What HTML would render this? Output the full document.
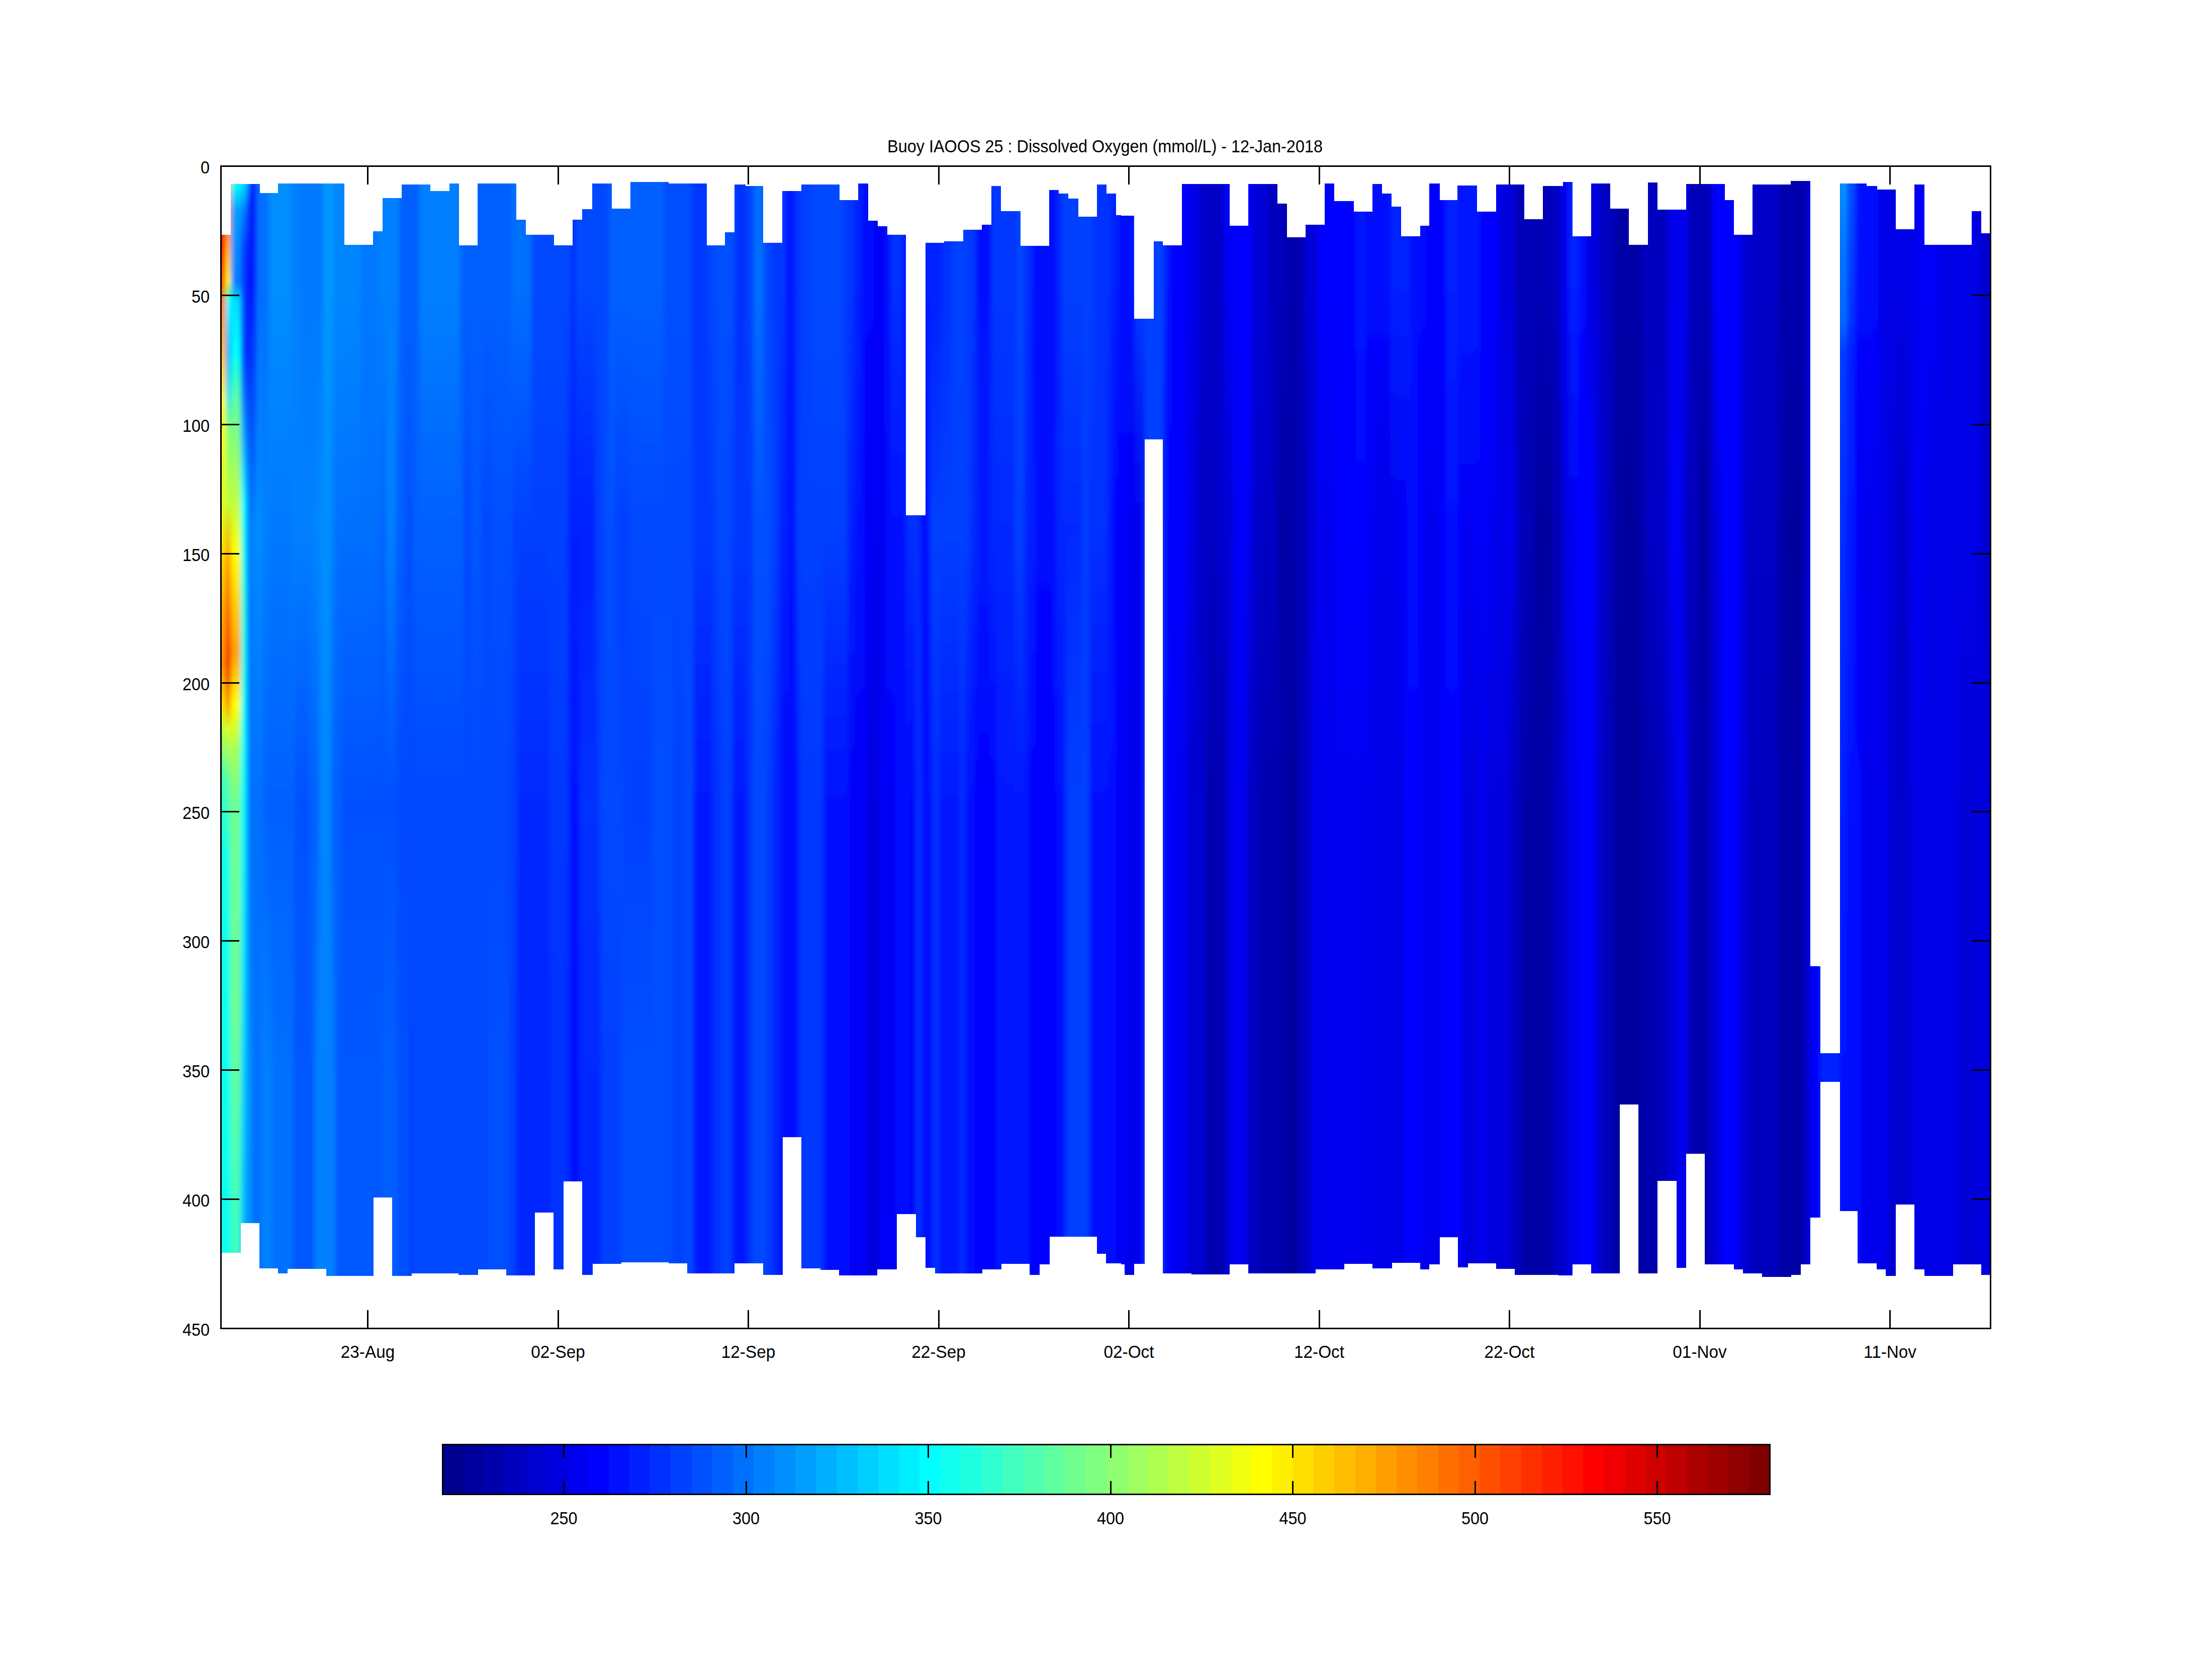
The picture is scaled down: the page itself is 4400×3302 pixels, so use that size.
<!DOCTYPE html><html><head><meta charset="utf-8"><style>
html,body{margin:0;padding:0;background:#fff;width:4400px;height:3302px;overflow:hidden}
svg{position:absolute;left:0;top:0}
text{font-family:"Liberation Sans",sans-serif;fill:#000}
</style></head><body>
<svg width="4400" height="3302" viewBox="0 0 4400 3302" shape-rendering="crispEdges">
<rect x="0" y="0" width="4400" height="3302" fill="#fff"/>
<defs>
<linearGradient id="g0" x1="0" y1="330" x2="0" y2="2642" gradientUnits="userSpaceOnUse">
<stop offset="0.0590" stop-color="#ff0000"/>
<stop offset="0.0993" stop-color="#ff6000"/>
<stop offset="0.1382" stop-color="#ff9f00"/>
<stop offset="0.2031" stop-color="#ffff00"/>
<stop offset="0.2896" stop-color="#dfff20"/>
<stop offset="0.3328" stop-color="#ffdf00"/>
<stop offset="0.3761" stop-color="#ffaf00"/>
<stop offset="0.4280" stop-color="#ff8f00"/>
<stop offset="0.4626" stop-color="#ffdf00"/>
<stop offset="0.4842" stop-color="#bfff40"/>
<stop offset="0.5275" stop-color="#40ffbf"/>
<stop offset="0.5923" stop-color="#10ffef"/>
<stop offset="0.7221" stop-color="#10ffef"/>
<stop offset="0.9336" stop-color="#10ffef"/>
</linearGradient>
<linearGradient id="g1" x1="0" y1="330" x2="0" y2="2642" gradientUnits="userSpaceOnUse">
<stop offset="0.0590" stop-color="#ff9f00"/>
<stop offset="0.0993" stop-color="#ffff00"/>
<stop offset="0.1166" stop-color="#00ffff"/>
<stop offset="0.1598" stop-color="#009fff"/>
<stop offset="0.1987" stop-color="#00dfff"/>
<stop offset="0.2247" stop-color="#80ff80"/>
<stop offset="0.2896" stop-color="#bfff40"/>
<stop offset="0.3328" stop-color="#ff9f00"/>
<stop offset="0.3977" stop-color="#ff4000"/>
<stop offset="0.4293" stop-color="#ef0000"/>
<stop offset="0.4626" stop-color="#ff8f00"/>
<stop offset="0.4842" stop-color="#dfff20"/>
<stop offset="0.5275" stop-color="#60ff9f"/>
<stop offset="0.5923" stop-color="#20ffdf"/>
<stop offset="0.7221" stop-color="#10ffef"/>
<stop offset="0.9336" stop-color="#10ffef"/>
</linearGradient>
<linearGradient id="g2" x1="0" y1="330" x2="0" y2="2642" gradientUnits="userSpaceOnUse">
<stop offset="0.0154" stop-color="#00ffff"/>
<stop offset="0.0387" stop-color="#009fff"/>
<stop offset="0.0993" stop-color="#0080ff"/>
<stop offset="0.1166" stop-color="#00dfff"/>
<stop offset="0.1598" stop-color="#00ffff"/>
<stop offset="0.2031" stop-color="#60ff9f"/>
<stop offset="0.2896" stop-color="#bfff40"/>
<stop offset="0.3328" stop-color="#ffff00"/>
<stop offset="0.4193" stop-color="#ff9f00"/>
<stop offset="0.4626" stop-color="#ffff00"/>
<stop offset="0.5058" stop-color="#9fff60"/>
<stop offset="0.5491" stop-color="#70ff8f"/>
<stop offset="0.7221" stop-color="#70ff8f"/>
<stop offset="0.9085" stop-color="#40ffbf"/>
</linearGradient>
<linearGradient id="g3" x1="0" y1="330" x2="0" y2="2642" gradientUnits="userSpaceOnUse">
<stop offset="0.0154" stop-color="#00dfff"/>
<stop offset="0.0387" stop-color="#0080ff"/>
<stop offset="0.0733" stop-color="#0040ff"/>
<stop offset="0.1598" stop-color="#0040ff"/>
<stop offset="0.2031" stop-color="#0080ff"/>
<stop offset="0.2896" stop-color="#00ffff"/>
<stop offset="0.3761" stop-color="#20ffdf"/>
<stop offset="0.5058" stop-color="#00ffff"/>
<stop offset="0.7221" stop-color="#00dfff"/>
<stop offset="0.9085" stop-color="#00bfff"/>
</linearGradient>
<linearGradient id="g4" x1="0" y1="330" x2="0" y2="2642" gradientUnits="userSpaceOnUse">
<stop offset="0.0154" stop-color="#009fff"/>
<stop offset="0.0387" stop-color="#0040ff"/>
<stop offset="0.0949" stop-color="#0010ff"/>
<stop offset="0.1598" stop-color="#0018ff"/>
<stop offset="0.2031" stop-color="#0040ff"/>
<stop offset="0.2896" stop-color="#0080ff"/>
<stop offset="0.5058" stop-color="#009fff"/>
<stop offset="0.7221" stop-color="#008fff"/>
<stop offset="0.9384" stop-color="#0080ff"/>
</linearGradient>
<linearGradient id="g5" x1="0" y1="330" x2="0" y2="2642" gradientUnits="userSpaceOnUse">
<stop offset="0.1036" stop-color="#0018ff"/>
<stop offset="0.3112" stop-color="#0080ff"/>
<stop offset="0.5491" stop-color="#0060ff"/>
<stop offset="0.7870" stop-color="#009fff"/>
</linearGradient>
<linearGradient id="g6" x1="0" y1="330" x2="0" y2="2642" gradientUnits="userSpaceOnUse">
<stop offset="0.1036" stop-color="#0018ff"/>
<stop offset="0.3112" stop-color="#0080ff"/>
<stop offset="0.5491" stop-color="#0070ff"/>
<stop offset="0.7870" stop-color="#009fff"/>
</linearGradient>
<linearGradient id="g7" x1="0" y1="330" x2="0" y2="2642" gradientUnits="userSpaceOnUse">
<stop offset="0.1036" stop-color="#0018ff"/>
<stop offset="0.3112" stop-color="#0080ff"/>
<stop offset="0.5491" stop-color="#0070ff"/>
<stop offset="0.7870" stop-color="#0070ff"/>
</linearGradient>
<linearGradient id="g8" x1="0" y1="330" x2="0" y2="2642" gradientUnits="userSpaceOnUse">
<stop offset="0.1036" stop-color="#0018ff"/>
<stop offset="0.3112" stop-color="#008fff"/>
<stop offset="0.5491" stop-color="#0070ff"/>
<stop offset="0.7870" stop-color="#0070ff"/>
</linearGradient>
<linearGradient id="g9" x1="0" y1="330" x2="0" y2="2642" gradientUnits="userSpaceOnUse">
<stop offset="0.1036" stop-color="#0070ff"/>
<stop offset="0.3112" stop-color="#008fff"/>
<stop offset="0.5491" stop-color="#0070ff"/>
<stop offset="0.7870" stop-color="#0070ff"/>
</linearGradient>
<linearGradient id="g10" x1="0" y1="330" x2="0" y2="2642" gradientUnits="userSpaceOnUse">
<stop offset="0.1036" stop-color="#0070ff"/>
<stop offset="0.3112" stop-color="#008fff"/>
<stop offset="0.5491" stop-color="#0070ff"/>
<stop offset="0.7870" stop-color="#0080ff"/>
</linearGradient>
<linearGradient id="g11" x1="0" y1="330" x2="0" y2="2642" gradientUnits="userSpaceOnUse">
<stop offset="0.1036" stop-color="#0070ff"/>
<stop offset="0.3112" stop-color="#0080ff"/>
<stop offset="0.5491" stop-color="#0070ff"/>
<stop offset="0.7870" stop-color="#0080ff"/>
</linearGradient>
<linearGradient id="g12" x1="0" y1="330" x2="0" y2="2642" gradientUnits="userSpaceOnUse">
<stop offset="0.1036" stop-color="#0070ff"/>
<stop offset="0.3112" stop-color="#0080ff"/>
<stop offset="0.5491" stop-color="#0060ff"/>
<stop offset="0.7870" stop-color="#0080ff"/>
</linearGradient>
<linearGradient id="g13" x1="0" y1="330" x2="0" y2="2642" gradientUnits="userSpaceOnUse">
<stop offset="0.1036" stop-color="#008fff"/>
<stop offset="0.3112" stop-color="#0080ff"/>
<stop offset="0.5491" stop-color="#0060ff"/>
<stop offset="0.7870" stop-color="#0080ff"/>
</linearGradient>
<linearGradient id="g14" x1="0" y1="330" x2="0" y2="2642" gradientUnits="userSpaceOnUse">
<stop offset="0.1036" stop-color="#008fff"/>
<stop offset="0.3112" stop-color="#0078ff"/>
<stop offset="0.5491" stop-color="#0060ff"/>
<stop offset="0.7870" stop-color="#0080ff"/>
</linearGradient>
<linearGradient id="g15" x1="0" y1="330" x2="0" y2="2642" gradientUnits="userSpaceOnUse">
<stop offset="0.1036" stop-color="#008fff"/>
<stop offset="0.3112" stop-color="#0078ff"/>
<stop offset="0.5491" stop-color="#0060ff"/>
<stop offset="0.7870" stop-color="#0070ff"/>
</linearGradient>
<linearGradient id="g16" x1="0" y1="330" x2="0" y2="2642" gradientUnits="userSpaceOnUse">
<stop offset="0.1036" stop-color="#0080ff"/>
<stop offset="0.3112" stop-color="#0080ff"/>
<stop offset="0.5491" stop-color="#0060ff"/>
<stop offset="0.7870" stop-color="#0070ff"/>
</linearGradient>
<linearGradient id="g17" x1="0" y1="330" x2="0" y2="2642" gradientUnits="userSpaceOnUse">
<stop offset="0.1036" stop-color="#0080ff"/>
<stop offset="0.3112" stop-color="#0080ff"/>
<stop offset="0.5491" stop-color="#0060ff"/>
<stop offset="0.7870" stop-color="#0058ff"/>
</linearGradient>
<linearGradient id="g18" x1="0" y1="330" x2="0" y2="2642" gradientUnits="userSpaceOnUse">
<stop offset="0.1036" stop-color="#0080ff"/>
<stop offset="0.3112" stop-color="#0080ff"/>
<stop offset="0.5491" stop-color="#0050ff"/>
<stop offset="0.7870" stop-color="#0058ff"/>
</linearGradient>
<linearGradient id="g19" x1="0" y1="330" x2="0" y2="2642" gradientUnits="userSpaceOnUse">
<stop offset="0.1036" stop-color="#0078ff"/>
<stop offset="0.3112" stop-color="#0080ff"/>
<stop offset="0.5491" stop-color="#0050ff"/>
<stop offset="0.7870" stop-color="#0058ff"/>
</linearGradient>
<linearGradient id="g20" x1="0" y1="330" x2="0" y2="2642" gradientUnits="userSpaceOnUse">
<stop offset="0.1036" stop-color="#0078ff"/>
<stop offset="0.3112" stop-color="#0080ff"/>
<stop offset="0.5491" stop-color="#0060ff"/>
<stop offset="0.7870" stop-color="#0058ff"/>
</linearGradient>
<linearGradient id="g21" x1="0" y1="330" x2="0" y2="2642" gradientUnits="userSpaceOnUse">
<stop offset="0.1036" stop-color="#0078ff"/>
<stop offset="0.3112" stop-color="#0080ff"/>
<stop offset="0.5491" stop-color="#0060ff"/>
<stop offset="0.7870" stop-color="#0080ff"/>
</linearGradient>
<linearGradient id="g22" x1="0" y1="330" x2="0" y2="2642" gradientUnits="userSpaceOnUse">
<stop offset="0.1036" stop-color="#0078ff"/>
<stop offset="0.3112" stop-color="#0087ff"/>
<stop offset="0.5491" stop-color="#0060ff"/>
<stop offset="0.7870" stop-color="#0080ff"/>
</linearGradient>
<linearGradient id="g23" x1="0" y1="330" x2="0" y2="2642" gradientUnits="userSpaceOnUse">
<stop offset="0.1036" stop-color="#0078ff"/>
<stop offset="0.3112" stop-color="#0087ff"/>
<stop offset="0.5491" stop-color="#0087ff"/>
<stop offset="0.7870" stop-color="#0080ff"/>
</linearGradient>
<linearGradient id="g24" x1="0" y1="330" x2="0" y2="2642" gradientUnits="userSpaceOnUse">
<stop offset="0.1036" stop-color="#0078ff"/>
<stop offset="0.3112" stop-color="#008fff"/>
<stop offset="0.5491" stop-color="#0087ff"/>
<stop offset="0.7870" stop-color="#0080ff"/>
</linearGradient>
<linearGradient id="g25" x1="0" y1="330" x2="0" y2="2642" gradientUnits="userSpaceOnUse">
<stop offset="0.1036" stop-color="#0097ff"/>
<stop offset="0.3112" stop-color="#008fff"/>
<stop offset="0.5491" stop-color="#0087ff"/>
<stop offset="0.7870" stop-color="#0080ff"/>
</linearGradient>
<linearGradient id="g26" x1="0" y1="330" x2="0" y2="2642" gradientUnits="userSpaceOnUse">
<stop offset="0.1036" stop-color="#0097ff"/>
<stop offset="0.3112" stop-color="#0087ff"/>
<stop offset="0.5491" stop-color="#0087ff"/>
<stop offset="0.7870" stop-color="#0080ff"/>
</linearGradient>
<linearGradient id="g27" x1="0" y1="330" x2="0" y2="2642" gradientUnits="userSpaceOnUse">
<stop offset="0.1036" stop-color="#0097ff"/>
<stop offset="0.3112" stop-color="#0087ff"/>
<stop offset="0.5491" stop-color="#0060ff"/>
<stop offset="0.7870" stop-color="#0080ff"/>
</linearGradient>
<linearGradient id="g28" x1="0" y1="330" x2="0" y2="2642" gradientUnits="userSpaceOnUse">
<stop offset="0.1036" stop-color="#0087ff"/>
<stop offset="0.3112" stop-color="#0087ff"/>
<stop offset="0.5491" stop-color="#0060ff"/>
<stop offset="0.7870" stop-color="#0080ff"/>
</linearGradient>
<linearGradient id="g29" x1="0" y1="330" x2="0" y2="2642" gradientUnits="userSpaceOnUse">
<stop offset="0.1036" stop-color="#0087ff"/>
<stop offset="0.3112" stop-color="#0070ff"/>
<stop offset="0.5491" stop-color="#0060ff"/>
<stop offset="0.7870" stop-color="#0080ff"/>
</linearGradient>
<linearGradient id="g30" x1="0" y1="330" x2="0" y2="2642" gradientUnits="userSpaceOnUse">
<stop offset="0.1036" stop-color="#0087ff"/>
<stop offset="0.3112" stop-color="#0070ff"/>
<stop offset="0.5491" stop-color="#0060ff"/>
<stop offset="0.7870" stop-color="#0058ff"/>
</linearGradient>
<linearGradient id="g31" x1="0" y1="330" x2="0" y2="2642" gradientUnits="userSpaceOnUse">
<stop offset="0.1036" stop-color="#0087ff"/>
<stop offset="0.3112" stop-color="#0070ff"/>
<stop offset="0.5491" stop-color="#0050ff"/>
<stop offset="0.7870" stop-color="#0058ff"/>
</linearGradient>
<linearGradient id="g32" x1="0" y1="330" x2="0" y2="2642" gradientUnits="userSpaceOnUse">
<stop offset="0.1036" stop-color="#0078ff"/>
<stop offset="0.3112" stop-color="#0070ff"/>
<stop offset="0.5491" stop-color="#0050ff"/>
<stop offset="0.7870" stop-color="#0058ff"/>
</linearGradient>
<linearGradient id="g33" x1="0" y1="330" x2="0" y2="2642" gradientUnits="userSpaceOnUse">
<stop offset="0.1036" stop-color="#0080ff"/>
<stop offset="0.3112" stop-color="#0070ff"/>
<stop offset="0.5491" stop-color="#0050ff"/>
<stop offset="0.7870" stop-color="#0058ff"/>
</linearGradient>
<linearGradient id="g34" x1="0" y1="330" x2="0" y2="2642" gradientUnits="userSpaceOnUse">
<stop offset="0.1036" stop-color="#0080ff"/>
<stop offset="0.3112" stop-color="#0060ff"/>
<stop offset="0.5491" stop-color="#0050ff"/>
<stop offset="0.7870" stop-color="#0058ff"/>
</linearGradient>
<linearGradient id="g35" x1="0" y1="330" x2="0" y2="2642" gradientUnits="userSpaceOnUse">
<stop offset="0.1036" stop-color="#0080ff"/>
<stop offset="0.3112" stop-color="#0060ff"/>
<stop offset="0.5491" stop-color="#0050ff"/>
<stop offset="0.7870" stop-color="#0060ff"/>
</linearGradient>
<linearGradient id="g36" x1="0" y1="330" x2="0" y2="2642" gradientUnits="userSpaceOnUse">
<stop offset="0.1036" stop-color="#0080ff"/>
<stop offset="0.3112" stop-color="#0080ff"/>
<stop offset="0.5491" stop-color="#0050ff"/>
<stop offset="0.7870" stop-color="#0060ff"/>
</linearGradient>
<linearGradient id="g37" x1="0" y1="330" x2="0" y2="2642" gradientUnits="userSpaceOnUse">
<stop offset="0.1036" stop-color="#0080ff"/>
<stop offset="0.3112" stop-color="#0060ff"/>
<stop offset="0.5491" stop-color="#0050ff"/>
<stop offset="0.7870" stop-color="#0060ff"/>
</linearGradient>
<linearGradient id="g38" x1="0" y1="330" x2="0" y2="2642" gradientUnits="userSpaceOnUse">
<stop offset="0.1036" stop-color="#0080ff"/>
<stop offset="0.3112" stop-color="#0060ff"/>
<stop offset="0.5491" stop-color="#0048ff"/>
<stop offset="0.7870" stop-color="#0050ff"/>
</linearGradient>
<linearGradient id="g39" x1="0" y1="330" x2="0" y2="2642" gradientUnits="userSpaceOnUse">
<stop offset="0.1036" stop-color="#0060ff"/>
<stop offset="0.3112" stop-color="#0060ff"/>
<stop offset="0.5491" stop-color="#0048ff"/>
<stop offset="0.7870" stop-color="#0050ff"/>
</linearGradient>
<linearGradient id="g40" x1="0" y1="330" x2="0" y2="2642" gradientUnits="userSpaceOnUse">
<stop offset="0.1036" stop-color="#0060ff"/>
<stop offset="0.3112" stop-color="#0050ff"/>
<stop offset="0.5491" stop-color="#0048ff"/>
<stop offset="0.7870" stop-color="#0050ff"/>
</linearGradient>
<linearGradient id="g41" x1="0" y1="330" x2="0" y2="2642" gradientUnits="userSpaceOnUse">
<stop offset="0.1036" stop-color="#0060ff"/>
<stop offset="0.3112" stop-color="#0050ff"/>
<stop offset="0.5491" stop-color="#0048ff"/>
<stop offset="0.7870" stop-color="#0040ff"/>
</linearGradient>
<linearGradient id="g42" x1="0" y1="330" x2="0" y2="2642" gradientUnits="userSpaceOnUse">
<stop offset="0.1036" stop-color="#0060ff"/>
<stop offset="0.3112" stop-color="#0050ff"/>
<stop offset="0.5491" stop-color="#0048ff"/>
<stop offset="0.7870" stop-color="#0048ff"/>
</linearGradient>
<linearGradient id="g43" x1="0" y1="330" x2="0" y2="2642" gradientUnits="userSpaceOnUse">
<stop offset="0.1036" stop-color="#0060ff"/>
<stop offset="0.3112" stop-color="#0060ff"/>
<stop offset="0.5491" stop-color="#0048ff"/>
<stop offset="0.7870" stop-color="#0048ff"/>
</linearGradient>
<linearGradient id="g44" x1="0" y1="330" x2="0" y2="2642" gradientUnits="userSpaceOnUse">
<stop offset="0.1036" stop-color="#0080ff"/>
<stop offset="0.3112" stop-color="#0060ff"/>
<stop offset="0.5491" stop-color="#0048ff"/>
<stop offset="0.7870" stop-color="#0048ff"/>
</linearGradient>
<linearGradient id="g45" x1="0" y1="330" x2="0" y2="2642" gradientUnits="userSpaceOnUse">
<stop offset="0.1036" stop-color="#0060ff"/>
<stop offset="0.3112" stop-color="#0060ff"/>
<stop offset="0.5491" stop-color="#0048ff"/>
<stop offset="0.7870" stop-color="#0048ff"/>
</linearGradient>
<linearGradient id="g46" x1="0" y1="330" x2="0" y2="2642" gradientUnits="userSpaceOnUse">
<stop offset="0.1036" stop-color="#0060ff"/>
<stop offset="0.3112" stop-color="#0048ff"/>
<stop offset="0.5491" stop-color="#0048ff"/>
<stop offset="0.7870" stop-color="#0048ff"/>
</linearGradient>
<linearGradient id="g47" x1="0" y1="330" x2="0" y2="2642" gradientUnits="userSpaceOnUse">
<stop offset="0.1036" stop-color="#0060ff"/>
<stop offset="0.3112" stop-color="#0058ff"/>
<stop offset="0.5491" stop-color="#0048ff"/>
<stop offset="0.7870" stop-color="#0048ff"/>
</linearGradient>
<linearGradient id="g48" x1="0" y1="330" x2="0" y2="2642" gradientUnits="userSpaceOnUse">
<stop offset="0.1036" stop-color="#0060ff"/>
<stop offset="0.3112" stop-color="#0048ff"/>
<stop offset="0.5491" stop-color="#0048ff"/>
<stop offset="0.7870" stop-color="#0048ff"/>
</linearGradient>
<linearGradient id="g49" x1="0" y1="330" x2="0" y2="2642" gradientUnits="userSpaceOnUse">
<stop offset="0.1036" stop-color="#0060ff"/>
<stop offset="0.3112" stop-color="#0048ff"/>
<stop offset="0.5491" stop-color="#0048ff"/>
<stop offset="0.7870" stop-color="#0050ff"/>
</linearGradient>
<linearGradient id="g50" x1="0" y1="330" x2="0" y2="2642" gradientUnits="userSpaceOnUse">
<stop offset="0.1036" stop-color="#0060ff"/>
<stop offset="0.3112" stop-color="#0050ff"/>
<stop offset="0.5491" stop-color="#0048ff"/>
<stop offset="0.7870" stop-color="#0050ff"/>
</linearGradient>
<linearGradient id="g51" x1="0" y1="330" x2="0" y2="2642" gradientUnits="userSpaceOnUse">
<stop offset="0.1036" stop-color="#0060ff"/>
<stop offset="0.3112" stop-color="#0050ff"/>
<stop offset="0.5491" stop-color="#0040ff"/>
<stop offset="0.7870" stop-color="#0040ff"/>
</linearGradient>
<linearGradient id="g52" x1="0" y1="330" x2="0" y2="2642" gradientUnits="userSpaceOnUse">
<stop offset="0.1036" stop-color="#0070ff"/>
<stop offset="0.3112" stop-color="#0050ff"/>
<stop offset="0.5491" stop-color="#0040ff"/>
<stop offset="0.7870" stop-color="#0040ff"/>
</linearGradient>
<linearGradient id="g53" x1="0" y1="330" x2="0" y2="2642" gradientUnits="userSpaceOnUse">
<stop offset="0.1036" stop-color="#0070ff"/>
<stop offset="0.3112" stop-color="#0040ff"/>
<stop offset="0.5491" stop-color="#0040ff"/>
<stop offset="0.7870" stop-color="#0040ff"/>
</linearGradient>
<linearGradient id="g54" x1="0" y1="330" x2="0" y2="2642" gradientUnits="userSpaceOnUse">
<stop offset="0.1036" stop-color="#0070ff"/>
<stop offset="0.3112" stop-color="#0040ff"/>
<stop offset="0.5491" stop-color="#0040ff"/>
<stop offset="0.7870" stop-color="#0028ff"/>
</linearGradient>
<linearGradient id="g55" x1="0" y1="330" x2="0" y2="2642" gradientUnits="userSpaceOnUse">
<stop offset="0.1036" stop-color="#0070ff"/>
<stop offset="0.3112" stop-color="#0040ff"/>
<stop offset="0.5491" stop-color="#0028ff"/>
<stop offset="0.7870" stop-color="#0028ff"/>
</linearGradient>
<linearGradient id="g56" x1="0" y1="330" x2="0" y2="2642" gradientUnits="userSpaceOnUse">
<stop offset="0.1036" stop-color="#0048ff"/>
<stop offset="0.3112" stop-color="#0040ff"/>
<stop offset="0.5491" stop-color="#0028ff"/>
<stop offset="0.7870" stop-color="#0028ff"/>
</linearGradient>
<linearGradient id="g57" x1="0" y1="330" x2="0" y2="2642" gradientUnits="userSpaceOnUse">
<stop offset="0.1036" stop-color="#0048ff"/>
<stop offset="0.3112" stop-color="#0040ff"/>
<stop offset="0.5491" stop-color="#0038ff"/>
<stop offset="0.7870" stop-color="#0028ff"/>
</linearGradient>
<linearGradient id="g58" x1="0" y1="330" x2="0" y2="2642" gradientUnits="userSpaceOnUse">
<stop offset="0.1036" stop-color="#0048ff"/>
<stop offset="0.3112" stop-color="#0040ff"/>
<stop offset="0.5491" stop-color="#0038ff"/>
<stop offset="0.7870" stop-color="#0030ff"/>
</linearGradient>
<linearGradient id="g59" x1="0" y1="330" x2="0" y2="2642" gradientUnits="userSpaceOnUse">
<stop offset="0.1036" stop-color="#0048ff"/>
<stop offset="0.3112" stop-color="#0020ff"/>
<stop offset="0.5491" stop-color="#0038ff"/>
<stop offset="0.7870" stop-color="#0030ff"/>
</linearGradient>
<linearGradient id="g60" x1="0" y1="330" x2="0" y2="2642" gradientUnits="userSpaceOnUse">
<stop offset="0.1036" stop-color="#0048ff"/>
<stop offset="0.3112" stop-color="#0020ff"/>
<stop offset="0.5491" stop-color="#0010ff"/>
<stop offset="0.7870" stop-color="#0010ff"/>
</linearGradient>
<linearGradient id="g61" x1="0" y1="330" x2="0" y2="2642" gradientUnits="userSpaceOnUse">
<stop offset="0.1036" stop-color="#0020ff"/>
<stop offset="0.3112" stop-color="#0020ff"/>
<stop offset="0.5491" stop-color="#0010ff"/>
<stop offset="0.7870" stop-color="#0010ff"/>
</linearGradient>
<linearGradient id="g62" x1="0" y1="330" x2="0" y2="2642" gradientUnits="userSpaceOnUse">
<stop offset="0.1036" stop-color="#0048ff"/>
<stop offset="0.3112" stop-color="#0020ff"/>
<stop offset="0.5491" stop-color="#0010ff"/>
<stop offset="0.7870" stop-color="#0010ff"/>
</linearGradient>
<linearGradient id="g63" x1="0" y1="330" x2="0" y2="2642" gradientUnits="userSpaceOnUse">
<stop offset="0.1036" stop-color="#0048ff"/>
<stop offset="0.3112" stop-color="#0020ff"/>
<stop offset="0.5491" stop-color="#0030ff"/>
<stop offset="0.7870" stop-color="#0028ff"/>
</linearGradient>
<linearGradient id="g64" x1="0" y1="330" x2="0" y2="2642" gradientUnits="userSpaceOnUse">
<stop offset="0.1036" stop-color="#0048ff"/>
<stop offset="0.3112" stop-color="#0040ff"/>
<stop offset="0.5491" stop-color="#0030ff"/>
<stop offset="0.7870" stop-color="#0028ff"/>
</linearGradient>
<linearGradient id="g65" x1="0" y1="330" x2="0" y2="2642" gradientUnits="userSpaceOnUse">
<stop offset="0.1036" stop-color="#0048ff"/>
<stop offset="0.3112" stop-color="#0040ff"/>
<stop offset="0.5491" stop-color="#0048ff"/>
<stop offset="0.7870" stop-color="#0028ff"/>
</linearGradient>
<linearGradient id="g66" x1="0" y1="330" x2="0" y2="2642" gradientUnits="userSpaceOnUse">
<stop offset="0.1036" stop-color="#0048ff"/>
<stop offset="0.3112" stop-color="#0040ff"/>
<stop offset="0.5491" stop-color="#0048ff"/>
<stop offset="0.7870" stop-color="#0040ff"/>
</linearGradient>
<linearGradient id="g67" x1="0" y1="330" x2="0" y2="2642" gradientUnits="userSpaceOnUse">
<stop offset="0.1036" stop-color="#0048ff"/>
<stop offset="0.3112" stop-color="#0050ff"/>
<stop offset="0.5491" stop-color="#0048ff"/>
<stop offset="0.7870" stop-color="#0040ff"/>
</linearGradient>
<linearGradient id="g68" x1="0" y1="330" x2="0" y2="2642" gradientUnits="userSpaceOnUse">
<stop offset="0.1036" stop-color="#0060ff"/>
<stop offset="0.3112" stop-color="#0050ff"/>
<stop offset="0.5491" stop-color="#0048ff"/>
<stop offset="0.7870" stop-color="#0040ff"/>
</linearGradient>
<linearGradient id="g69" x1="0" y1="330" x2="0" y2="2642" gradientUnits="userSpaceOnUse">
<stop offset="0.1036" stop-color="#0060ff"/>
<stop offset="0.3112" stop-color="#0040ff"/>
<stop offset="0.5491" stop-color="#0048ff"/>
<stop offset="0.7870" stop-color="#0040ff"/>
</linearGradient>
<linearGradient id="g70" x1="0" y1="330" x2="0" y2="2642" gradientUnits="userSpaceOnUse">
<stop offset="0.1036" stop-color="#0060ff"/>
<stop offset="0.3112" stop-color="#0040ff"/>
<stop offset="0.5491" stop-color="#0048ff"/>
<stop offset="0.7870" stop-color="#0050ff"/>
</linearGradient>
<linearGradient id="g71" x1="0" y1="330" x2="0" y2="2642" gradientUnits="userSpaceOnUse">
<stop offset="0.1036" stop-color="#0060ff"/>
<stop offset="0.3112" stop-color="#0040ff"/>
<stop offset="0.5491" stop-color="#0040ff"/>
<stop offset="0.7870" stop-color="#0050ff"/>
</linearGradient>
<linearGradient id="g72" x1="0" y1="330" x2="0" y2="2642" gradientUnits="userSpaceOnUse">
<stop offset="0.1036" stop-color="#0060ff"/>
<stop offset="0.3112" stop-color="#0048ff"/>
<stop offset="0.5491" stop-color="#0040ff"/>
<stop offset="0.7870" stop-color="#0050ff"/>
</linearGradient>
<linearGradient id="g73" x1="0" y1="330" x2="0" y2="2642" gradientUnits="userSpaceOnUse">
<stop offset="0.1036" stop-color="#0060ff"/>
<stop offset="0.3112" stop-color="#0048ff"/>
<stop offset="0.5491" stop-color="#0050ff"/>
<stop offset="0.7870" stop-color="#0050ff"/>
</linearGradient>
<linearGradient id="g74" x1="0" y1="330" x2="0" y2="2642" gradientUnits="userSpaceOnUse">
<stop offset="0.1036" stop-color="#0050ff"/>
<stop offset="0.3112" stop-color="#0048ff"/>
<stop offset="0.5491" stop-color="#0050ff"/>
<stop offset="0.7870" stop-color="#0050ff"/>
</linearGradient>
<linearGradient id="g75" x1="0" y1="330" x2="0" y2="2642" gradientUnits="userSpaceOnUse">
<stop offset="0.1036" stop-color="#0050ff"/>
<stop offset="0.3112" stop-color="#0048ff"/>
<stop offset="0.5491" stop-color="#0040ff"/>
<stop offset="0.7870" stop-color="#0040ff"/>
</linearGradient>
<linearGradient id="g76" x1="0" y1="330" x2="0" y2="2642" gradientUnits="userSpaceOnUse">
<stop offset="0.1036" stop-color="#0050ff"/>
<stop offset="0.3112" stop-color="#0048ff"/>
<stop offset="0.5491" stop-color="#0048ff"/>
<stop offset="0.7870" stop-color="#0048ff"/>
</linearGradient>
<linearGradient id="g77" x1="0" y1="330" x2="0" y2="2642" gradientUnits="userSpaceOnUse">
<stop offset="0.1036" stop-color="#0038ff"/>
<stop offset="0.3112" stop-color="#0048ff"/>
<stop offset="0.5491" stop-color="#0048ff"/>
<stop offset="0.7870" stop-color="#0048ff"/>
</linearGradient>
<linearGradient id="g78" x1="0" y1="330" x2="0" y2="2642" gradientUnits="userSpaceOnUse">
<stop offset="0.1036" stop-color="#0038ff"/>
<stop offset="0.3112" stop-color="#0038ff"/>
<stop offset="0.5491" stop-color="#0048ff"/>
<stop offset="0.7870" stop-color="#0048ff"/>
</linearGradient>
<linearGradient id="g79" x1="0" y1="330" x2="0" y2="2642" gradientUnits="userSpaceOnUse">
<stop offset="0.1036" stop-color="#0038ff"/>
<stop offset="0.3112" stop-color="#0038ff"/>
<stop offset="0.5491" stop-color="#0018ff"/>
<stop offset="0.7870" stop-color="#0018ff"/>
</linearGradient>
<linearGradient id="g80" x1="0" y1="330" x2="0" y2="2642" gradientUnits="userSpaceOnUse">
<stop offset="0.1036" stop-color="#0048ff"/>
<stop offset="0.3112" stop-color="#0038ff"/>
<stop offset="0.5491" stop-color="#0018ff"/>
<stop offset="0.7870" stop-color="#0018ff"/>
</linearGradient>
<linearGradient id="g81" x1="0" y1="330" x2="0" y2="2642" gradientUnits="userSpaceOnUse">
<stop offset="0.1036" stop-color="#0048ff"/>
<stop offset="0.3112" stop-color="#0038ff"/>
<stop offset="0.5491" stop-color="#0030ff"/>
<stop offset="0.7870" stop-color="#0030ff"/>
</linearGradient>
<linearGradient id="g82" x1="0" y1="330" x2="0" y2="2642" gradientUnits="userSpaceOnUse">
<stop offset="0.1036" stop-color="#0048ff"/>
<stop offset="0.3112" stop-color="#0048ff"/>
<stop offset="0.5491" stop-color="#0030ff"/>
<stop offset="0.7870" stop-color="#0030ff"/>
</linearGradient>
<linearGradient id="g83" x1="0" y1="330" x2="0" y2="2642" gradientUnits="userSpaceOnUse">
<stop offset="0.1036" stop-color="#0050ff"/>
<stop offset="0.3112" stop-color="#0048ff"/>
<stop offset="0.5491" stop-color="#0030ff"/>
<stop offset="0.7870" stop-color="#0030ff"/>
</linearGradient>
<linearGradient id="g84" x1="0" y1="330" x2="0" y2="2642" gradientUnits="userSpaceOnUse">
<stop offset="0.1036" stop-color="#0050ff"/>
<stop offset="0.3112" stop-color="#0048ff"/>
<stop offset="0.5491" stop-color="#0040ff"/>
<stop offset="0.7870" stop-color="#0040ff"/>
</linearGradient>
<linearGradient id="g85" x1="0" y1="330" x2="0" y2="2642" gradientUnits="userSpaceOnUse">
<stop offset="0.1036" stop-color="#0050ff"/>
<stop offset="0.3112" stop-color="#0038ff"/>
<stop offset="0.5491" stop-color="#0040ff"/>
<stop offset="0.7870" stop-color="#0040ff"/>
</linearGradient>
<linearGradient id="g86" x1="0" y1="330" x2="0" y2="2642" gradientUnits="userSpaceOnUse">
<stop offset="0.1036" stop-color="#0050ff"/>
<stop offset="0.3112" stop-color="#0038ff"/>
<stop offset="0.5491" stop-color="#0018ff"/>
<stop offset="0.7870" stop-color="#0018ff"/>
</linearGradient>
<linearGradient id="g87" x1="0" y1="330" x2="0" y2="2642" gradientUnits="userSpaceOnUse">
<stop offset="0.1036" stop-color="#0030ff"/>
<stop offset="0.3112" stop-color="#0038ff"/>
<stop offset="0.5491" stop-color="#0018ff"/>
<stop offset="0.7870" stop-color="#0018ff"/>
</linearGradient>
<linearGradient id="g88" x1="0" y1="330" x2="0" y2="2642" gradientUnits="userSpaceOnUse">
<stop offset="0.1036" stop-color="#0040ff"/>
<stop offset="0.3112" stop-color="#0038ff"/>
<stop offset="0.5491" stop-color="#0018ff"/>
<stop offset="0.7870" stop-color="#0018ff"/>
</linearGradient>
<linearGradient id="g89" x1="0" y1="330" x2="0" y2="2642" gradientUnits="userSpaceOnUse">
<stop offset="0.1036" stop-color="#0040ff"/>
<stop offset="0.3112" stop-color="#0038ff"/>
<stop offset="0.5491" stop-color="#0030ff"/>
<stop offset="0.7870" stop-color="#0030ff"/>
</linearGradient>
<linearGradient id="g90" x1="0" y1="330" x2="0" y2="2642" gradientUnits="userSpaceOnUse">
<stop offset="0.1036" stop-color="#0040ff"/>
<stop offset="0.3112" stop-color="#0038ff"/>
<stop offset="0.5491" stop-color="#0048ff"/>
<stop offset="0.7870" stop-color="#0048ff"/>
</linearGradient>
<linearGradient id="g91" x1="0" y1="330" x2="0" y2="2642" gradientUnits="userSpaceOnUse">
<stop offset="0.1036" stop-color="#0040ff"/>
<stop offset="0.3112" stop-color="#0050ff"/>
<stop offset="0.5491" stop-color="#0048ff"/>
<stop offset="0.7870" stop-color="#0048ff"/>
</linearGradient>
<linearGradient id="g92" x1="0" y1="330" x2="0" y2="2642" gradientUnits="userSpaceOnUse">
<stop offset="0.1036" stop-color="#0070ff"/>
<stop offset="0.3112" stop-color="#0050ff"/>
<stop offset="0.5491" stop-color="#0048ff"/>
<stop offset="0.7870" stop-color="#0048ff"/>
</linearGradient>
<linearGradient id="g93" x1="0" y1="330" x2="0" y2="2642" gradientUnits="userSpaceOnUse">
<stop offset="0.1036" stop-color="#0048ff"/>
<stop offset="0.3112" stop-color="#0050ff"/>
<stop offset="0.5491" stop-color="#0048ff"/>
<stop offset="0.7870" stop-color="#0048ff"/>
</linearGradient>
<linearGradient id="g94" x1="0" y1="330" x2="0" y2="2642" gradientUnits="userSpaceOnUse">
<stop offset="0.1036" stop-color="#0048ff"/>
<stop offset="0.3112" stop-color="#0050ff"/>
<stop offset="0.5491" stop-color="#0038ff"/>
<stop offset="0.7870" stop-color="#0038ff"/>
</linearGradient>
<linearGradient id="g95" x1="0" y1="330" x2="0" y2="2642" gradientUnits="userSpaceOnUse">
<stop offset="0.1036" stop-color="#0038ff"/>
<stop offset="0.3112" stop-color="#0040ff"/>
<stop offset="0.5491" stop-color="#0038ff"/>
<stop offset="0.7870" stop-color="#0038ff"/>
</linearGradient>
<linearGradient id="g96" x1="0" y1="330" x2="0" y2="2642" gradientUnits="userSpaceOnUse">
<stop offset="0.1036" stop-color="#0038ff"/>
<stop offset="0.3112" stop-color="#0040ff"/>
<stop offset="0.5491" stop-color="#0020ff"/>
<stop offset="0.7870" stop-color="#0020ff"/>
</linearGradient>
<linearGradient id="g97" x1="0" y1="330" x2="0" y2="2642" gradientUnits="userSpaceOnUse">
<stop offset="0.1036" stop-color="#0038ff"/>
<stop offset="0.3112" stop-color="#0020ff"/>
<stop offset="0.5491" stop-color="#0020ff"/>
<stop offset="0.7870" stop-color="#0020ff"/>
</linearGradient>
<linearGradient id="g98" x1="0" y1="330" x2="0" y2="2642" gradientUnits="userSpaceOnUse">
<stop offset="0.1036" stop-color="#0038ff"/>
<stop offset="0.3112" stop-color="#0020ff"/>
<stop offset="0.5491" stop-color="#0008ff"/>
<stop offset="0.7870" stop-color="#0008ff"/>
</linearGradient>
<linearGradient id="g99" x1="0" y1="330" x2="0" y2="2642" gradientUnits="userSpaceOnUse">
<stop offset="0.1036" stop-color="#0010ff"/>
<stop offset="0.3112" stop-color="#0020ff"/>
<stop offset="0.5491" stop-color="#0008ff"/>
<stop offset="0.7870" stop-color="#0008ff"/>
</linearGradient>
<linearGradient id="g100" x1="0" y1="330" x2="0" y2="2642" gradientUnits="userSpaceOnUse">
<stop offset="0.1036" stop-color="#0010ff"/>
<stop offset="0.3112" stop-color="#0010ff"/>
<stop offset="0.5491" stop-color="#0008ff"/>
<stop offset="0.7870" stop-color="#0008ff"/>
</linearGradient>
<linearGradient id="g101" x1="0" y1="330" x2="0" y2="2642" gradientUnits="userSpaceOnUse">
<stop offset="0.1036" stop-color="#0030ff"/>
<stop offset="0.3112" stop-color="#0010ff"/>
<stop offset="0.5491" stop-color="#0008ff"/>
<stop offset="0.7870" stop-color="#0008ff"/>
</linearGradient>
<linearGradient id="g102" x1="0" y1="330" x2="0" y2="2642" gradientUnits="userSpaceOnUse">
<stop offset="0.1036" stop-color="#0030ff"/>
<stop offset="0.3112" stop-color="#0040ff"/>
<stop offset="0.5491" stop-color="#0008ff"/>
<stop offset="0.7870" stop-color="#0008ff"/>
</linearGradient>
<linearGradient id="g103" x1="0" y1="330" x2="0" y2="2642" gradientUnits="userSpaceOnUse">
<stop offset="0.1036" stop-color="#0030ff"/>
<stop offset="0.3112" stop-color="#0040ff"/>
<stop offset="0.5491" stop-color="#0038ff"/>
<stop offset="0.7870" stop-color="#0038ff"/>
</linearGradient>
<linearGradient id="g104" x1="0" y1="330" x2="0" y2="2642" gradientUnits="userSpaceOnUse">
<stop offset="0.1036" stop-color="#0040ff"/>
<stop offset="0.3112" stop-color="#0040ff"/>
<stop offset="0.5491" stop-color="#0038ff"/>
<stop offset="0.7870" stop-color="#0038ff"/>
</linearGradient>
<linearGradient id="g105" x1="0" y1="330" x2="0" y2="2642" gradientUnits="userSpaceOnUse">
<stop offset="0.1036" stop-color="#0048ff"/>
<stop offset="0.3112" stop-color="#0040ff"/>
<stop offset="0.5491" stop-color="#0038ff"/>
<stop offset="0.7870" stop-color="#0038ff"/>
</linearGradient>
<linearGradient id="g106" x1="0" y1="330" x2="0" y2="2642" gradientUnits="userSpaceOnUse">
<stop offset="0.1036" stop-color="#0048ff"/>
<stop offset="0.3112" stop-color="#0040ff"/>
<stop offset="0.5491" stop-color="#0010ff"/>
<stop offset="0.7870" stop-color="#0010ff"/>
</linearGradient>
<linearGradient id="g107" x1="0" y1="330" x2="0" y2="2642" gradientUnits="userSpaceOnUse">
<stop offset="0.1036" stop-color="#0038ff"/>
<stop offset="0.3112" stop-color="#0040ff"/>
<stop offset="0.5491" stop-color="#0010ff"/>
<stop offset="0.7870" stop-color="#0010ff"/>
</linearGradient>
<linearGradient id="g108" x1="0" y1="330" x2="0" y2="2642" gradientUnits="userSpaceOnUse">
<stop offset="0.1036" stop-color="#0038ff"/>
<stop offset="0.3112" stop-color="#0020ff"/>
<stop offset="0.5491" stop-color="#0010ff"/>
<stop offset="0.7870" stop-color="#0010ff"/>
</linearGradient>
<linearGradient id="g109" x1="0" y1="330" x2="0" y2="2642" gradientUnits="userSpaceOnUse">
<stop offset="0.1036" stop-color="#0038ff"/>
<stop offset="0.3112" stop-color="#0020ff"/>
<stop offset="0.5491" stop-color="#0000f7"/>
<stop offset="0.7870" stop-color="#0000f7"/>
</linearGradient>
<linearGradient id="g110" x1="0" y1="330" x2="0" y2="2642" gradientUnits="userSpaceOnUse">
<stop offset="0.1036" stop-color="#0020ff"/>
<stop offset="0.3112" stop-color="#0020ff"/>
<stop offset="0.5491" stop-color="#0000f7"/>
<stop offset="0.7870" stop-color="#0000f7"/>
</linearGradient>
<linearGradient id="g111" x1="0" y1="330" x2="0" y2="2642" gradientUnits="userSpaceOnUse">
<stop offset="0.1036" stop-color="#0020ff"/>
<stop offset="0.3112" stop-color="#0010ff"/>
<stop offset="0.5491" stop-color="#0000f7"/>
<stop offset="0.7870" stop-color="#0000f7"/>
</linearGradient>
<linearGradient id="g112" x1="0" y1="330" x2="0" y2="2642" gradientUnits="userSpaceOnUse">
<stop offset="0.1036" stop-color="#0008ff"/>
<stop offset="0.3112" stop-color="#0010ff"/>
<stop offset="0.5491" stop-color="#0000f7"/>
<stop offset="0.7870" stop-color="#0000f7"/>
</linearGradient>
<linearGradient id="g113" x1="0" y1="330" x2="0" y2="2642" gradientUnits="userSpaceOnUse">
<stop offset="0.1036" stop-color="#0008ff"/>
<stop offset="0.3112" stop-color="#0000f7"/>
<stop offset="0.5491" stop-color="#0000f7"/>
<stop offset="0.7870" stop-color="#0000f7"/>
</linearGradient>
<linearGradient id="g114" x1="0" y1="330" x2="0" y2="2642" gradientUnits="userSpaceOnUse">
<stop offset="0.1036" stop-color="#0008ff"/>
<stop offset="0.3112" stop-color="#0000f7"/>
<stop offset="0.5491" stop-color="#0000df"/>
<stop offset="0.7870" stop-color="#0000df"/>
</linearGradient>
<linearGradient id="g115" x1="0" y1="330" x2="0" y2="2642" gradientUnits="userSpaceOnUse">
<stop offset="0.1036" stop-color="#0000f7"/>
<stop offset="0.3112" stop-color="#0000f7"/>
<stop offset="0.5491" stop-color="#0000df"/>
<stop offset="0.7870" stop-color="#0000df"/>
</linearGradient>
<linearGradient id="g116" x1="0" y1="330" x2="0" y2="2642" gradientUnits="userSpaceOnUse">
<stop offset="0.1036" stop-color="#0000f7"/>
<stop offset="0.3112" stop-color="#0000ef"/>
<stop offset="0.5491" stop-color="#0000df"/>
<stop offset="0.7870" stop-color="#0000df"/>
</linearGradient>
<linearGradient id="g117" x1="0" y1="330" x2="0" y2="2642" gradientUnits="userSpaceOnUse">
<stop offset="0.1036" stop-color="#0000f7"/>
<stop offset="0.3112" stop-color="#0000ef"/>
<stop offset="0.5491" stop-color="#0000f7"/>
<stop offset="0.7870" stop-color="#0000f7"/>
</linearGradient>
<linearGradient id="g118" x1="0" y1="330" x2="0" y2="2642" gradientUnits="userSpaceOnUse">
<stop offset="0.1036" stop-color="#0010ff"/>
<stop offset="0.3112" stop-color="#0000ef"/>
<stop offset="0.5491" stop-color="#0000f7"/>
<stop offset="0.7870" stop-color="#0000f7"/>
</linearGradient>
<linearGradient id="g119" x1="0" y1="330" x2="0" y2="2642" gradientUnits="userSpaceOnUse">
<stop offset="0.1036" stop-color="#0010ff"/>
<stop offset="0.3112" stop-color="#0010ff"/>
<stop offset="0.5491" stop-color="#0000f7"/>
<stop offset="0.7870" stop-color="#0000f7"/>
</linearGradient>
<linearGradient id="g120" x1="0" y1="330" x2="0" y2="2642" gradientUnits="userSpaceOnUse">
<stop offset="0.1036" stop-color="#0030ff"/>
<stop offset="0.3112" stop-color="#0010ff"/>
<stop offset="0.5491" stop-color="#0000f7"/>
<stop offset="0.7870" stop-color="#0000f7"/>
</linearGradient>
<linearGradient id="g121" x1="0" y1="330" x2="0" y2="2642" gradientUnits="userSpaceOnUse">
<stop offset="0.1036" stop-color="#0030ff"/>
<stop offset="0.3112" stop-color="#0010ff"/>
<stop offset="0.5491" stop-color="#0010ff"/>
<stop offset="0.7870" stop-color="#0010ff"/>
</linearGradient>
<linearGradient id="g122" x1="0" y1="330" x2="0" y2="2642" gradientUnits="userSpaceOnUse">
<stop offset="0.1036" stop-color="#0018ff"/>
<stop offset="0.3112" stop-color="#0010ff"/>
<stop offset="0.5491" stop-color="#0010ff"/>
<stop offset="0.7870" stop-color="#0010ff"/>
</linearGradient>
<linearGradient id="g123" x1="0" y1="330" x2="0" y2="2642" gradientUnits="userSpaceOnUse">
<stop offset="0.1036" stop-color="#0020ff"/>
<stop offset="0.3112" stop-color="#0030ff"/>
<stop offset="0.5491" stop-color="#0010ff"/>
<stop offset="0.7870" stop-color="#0010ff"/>
</linearGradient>
<linearGradient id="g124" x1="0" y1="330" x2="0" y2="2642" gradientUnits="userSpaceOnUse">
<stop offset="0.1036" stop-color="#0020ff"/>
<stop offset="0.3112" stop-color="#0030ff"/>
<stop offset="0.5491" stop-color="#0000ff"/>
<stop offset="0.7870" stop-color="#0000ff"/>
</linearGradient>
<linearGradient id="g125" x1="0" y1="330" x2="0" y2="2642" gradientUnits="userSpaceOnUse">
<stop offset="0.1036" stop-color="#0020ff"/>
<stop offset="0.3112" stop-color="#0030ff"/>
<stop offset="0.5491" stop-color="#0030ff"/>
<stop offset="0.7870" stop-color="#0030ff"/>
</linearGradient>
<linearGradient id="g126" x1="0" y1="330" x2="0" y2="2642" gradientUnits="userSpaceOnUse">
<stop offset="0.1036" stop-color="#0020ff"/>
<stop offset="0.3112" stop-color="#0010ff"/>
<stop offset="0.5491" stop-color="#0030ff"/>
<stop offset="0.7870" stop-color="#0030ff"/>
</linearGradient>
<linearGradient id="g127" x1="0" y1="330" x2="0" y2="2642" gradientUnits="userSpaceOnUse">
<stop offset="0.1036" stop-color="#0020ff"/>
<stop offset="0.3112" stop-color="#0010ff"/>
<stop offset="0.5491" stop-color="#0010ff"/>
<stop offset="0.7870" stop-color="#0010ff"/>
</linearGradient>
<linearGradient id="g128" x1="0" y1="330" x2="0" y2="2642" gradientUnits="userSpaceOnUse">
<stop offset="0.1036" stop-color="#0020ff"/>
<stop offset="0.3112" stop-color="#0040ff"/>
<stop offset="0.5491" stop-color="#0010ff"/>
<stop offset="0.7870" stop-color="#0010ff"/>
</linearGradient>
<linearGradient id="g129" x1="0" y1="330" x2="0" y2="2642" gradientUnits="userSpaceOnUse">
<stop offset="0.1036" stop-color="#0020ff"/>
<stop offset="0.3112" stop-color="#0040ff"/>
<stop offset="0.5491" stop-color="#0030ff"/>
<stop offset="0.7870" stop-color="#0030ff"/>
</linearGradient>
<linearGradient id="g130" x1="0" y1="330" x2="0" y2="2642" gradientUnits="userSpaceOnUse">
<stop offset="0.1036" stop-color="#0020ff"/>
<stop offset="0.3112" stop-color="#0040ff"/>
<stop offset="0.5491" stop-color="#0018ff"/>
<stop offset="0.7870" stop-color="#0018ff"/>
</linearGradient>
<linearGradient id="g131" x1="0" y1="330" x2="0" y2="2642" gradientUnits="userSpaceOnUse">
<stop offset="0.1036" stop-color="#0030ff"/>
<stop offset="0.3112" stop-color="#0040ff"/>
<stop offset="0.5491" stop-color="#0018ff"/>
<stop offset="0.7870" stop-color="#0018ff"/>
</linearGradient>
<linearGradient id="g132" x1="0" y1="330" x2="0" y2="2642" gradientUnits="userSpaceOnUse">
<stop offset="0.1036" stop-color="#0040ff"/>
<stop offset="0.3112" stop-color="#0040ff"/>
<stop offset="0.5491" stop-color="#0018ff"/>
<stop offset="0.7870" stop-color="#0018ff"/>
</linearGradient>
<linearGradient id="g133" x1="0" y1="330" x2="0" y2="2642" gradientUnits="userSpaceOnUse">
<stop offset="0.1036" stop-color="#0040ff"/>
<stop offset="0.3112" stop-color="#0040ff"/>
<stop offset="0.5491" stop-color="#0030ff"/>
<stop offset="0.7870" stop-color="#0030ff"/>
</linearGradient>
<linearGradient id="g134" x1="0" y1="330" x2="0" y2="2642" gradientUnits="userSpaceOnUse">
<stop offset="0.1036" stop-color="#0040ff"/>
<stop offset="0.3112" stop-color="#0040ff"/>
<stop offset="0.5491" stop-color="#0010ff"/>
<stop offset="0.7870" stop-color="#0010ff"/>
</linearGradient>
<linearGradient id="g135" x1="0" y1="330" x2="0" y2="2642" gradientUnits="userSpaceOnUse">
<stop offset="0.1036" stop-color="#0038ff"/>
<stop offset="0.3112" stop-color="#0040ff"/>
<stop offset="0.5491" stop-color="#0010ff"/>
<stop offset="0.7870" stop-color="#0010ff"/>
</linearGradient>
<linearGradient id="g136" x1="0" y1="330" x2="0" y2="2642" gradientUnits="userSpaceOnUse">
<stop offset="0.1036" stop-color="#0038ff"/>
<stop offset="0.3112" stop-color="#0028ff"/>
<stop offset="0.5491" stop-color="#0010ff"/>
<stop offset="0.7870" stop-color="#0010ff"/>
</linearGradient>
<linearGradient id="g137" x1="0" y1="330" x2="0" y2="2642" gradientUnits="userSpaceOnUse">
<stop offset="0.1036" stop-color="#0038ff"/>
<stop offset="0.3112" stop-color="#0028ff"/>
<stop offset="0.5491" stop-color="#0000ff"/>
<stop offset="0.7870" stop-color="#0000ff"/>
</linearGradient>
<linearGradient id="g138" x1="0" y1="330" x2="0" y2="2642" gradientUnits="userSpaceOnUse">
<stop offset="0.1036" stop-color="#0010ff"/>
<stop offset="0.3112" stop-color="#0028ff"/>
<stop offset="0.5491" stop-color="#0000ff"/>
<stop offset="0.7870" stop-color="#0000ff"/>
</linearGradient>
<linearGradient id="g139" x1="0" y1="330" x2="0" y2="2642" gradientUnits="userSpaceOnUse">
<stop offset="0.1036" stop-color="#0010ff"/>
<stop offset="0.3112" stop-color="#0018ff"/>
<stop offset="0.5491" stop-color="#0000ff"/>
<stop offset="0.7870" stop-color="#0000ff"/>
</linearGradient>
<linearGradient id="g140" x1="0" y1="330" x2="0" y2="2642" gradientUnits="userSpaceOnUse">
<stop offset="0.1036" stop-color="#0010ff"/>
<stop offset="0.3112" stop-color="#0028ff"/>
<stop offset="0.5491" stop-color="#0000ff"/>
<stop offset="0.7870" stop-color="#0000ff"/>
</linearGradient>
<linearGradient id="g141" x1="0" y1="330" x2="0" y2="2642" gradientUnits="userSpaceOnUse">
<stop offset="0.1036" stop-color="#0038ff"/>
<stop offset="0.3112" stop-color="#0028ff"/>
<stop offset="0.5491" stop-color="#0000ff"/>
<stop offset="0.7870" stop-color="#0000ff"/>
</linearGradient>
<linearGradient id="g142" x1="0" y1="330" x2="0" y2="2642" gradientUnits="userSpaceOnUse">
<stop offset="0.1036" stop-color="#0038ff"/>
<stop offset="0.3112" stop-color="#0028ff"/>
<stop offset="0.5491" stop-color="#0018ff"/>
<stop offset="0.7870" stop-color="#0018ff"/>
</linearGradient>
<linearGradient id="g143" x1="0" y1="330" x2="0" y2="2642" gradientUnits="userSpaceOnUse">
<stop offset="0.1036" stop-color="#0038ff"/>
<stop offset="0.3112" stop-color="#0040ff"/>
<stop offset="0.5491" stop-color="#0018ff"/>
<stop offset="0.7870" stop-color="#0018ff"/>
</linearGradient>
<linearGradient id="g144" x1="0" y1="330" x2="0" y2="2642" gradientUnits="userSpaceOnUse">
<stop offset="0.1036" stop-color="#0048ff"/>
<stop offset="0.3112" stop-color="#0040ff"/>
<stop offset="0.5491" stop-color="#0018ff"/>
<stop offset="0.7870" stop-color="#0018ff"/>
</linearGradient>
<linearGradient id="g145" x1="0" y1="330" x2="0" y2="2642" gradientUnits="userSpaceOnUse">
<stop offset="0.1036" stop-color="#0030ff"/>
<stop offset="0.3112" stop-color="#0040ff"/>
<stop offset="0.5491" stop-color="#0018ff"/>
<stop offset="0.7870" stop-color="#0018ff"/>
</linearGradient>
<linearGradient id="g146" x1="0" y1="330" x2="0" y2="2642" gradientUnits="userSpaceOnUse">
<stop offset="0.1036" stop-color="#0030ff"/>
<stop offset="0.3112" stop-color="#0020ff"/>
<stop offset="0.5491" stop-color="#0018ff"/>
<stop offset="0.7870" stop-color="#0018ff"/>
</linearGradient>
<linearGradient id="g147" x1="0" y1="330" x2="0" y2="2642" gradientUnits="userSpaceOnUse">
<stop offset="0.1036" stop-color="#0030ff"/>
<stop offset="0.3112" stop-color="#0020ff"/>
<stop offset="0.5491" stop-color="#0000ff"/>
<stop offset="0.7870" stop-color="#0000ff"/>
</linearGradient>
<linearGradient id="g148" x1="0" y1="330" x2="0" y2="2642" gradientUnits="userSpaceOnUse">
<stop offset="0.1036" stop-color="#0008ff"/>
<stop offset="0.3112" stop-color="#0020ff"/>
<stop offset="0.5491" stop-color="#0000ff"/>
<stop offset="0.7870" stop-color="#0000ff"/>
</linearGradient>
<linearGradient id="g149" x1="0" y1="330" x2="0" y2="2642" gradientUnits="userSpaceOnUse">
<stop offset="0.1036" stop-color="#0008ff"/>
<stop offset="0.3112" stop-color="#0008ff"/>
<stop offset="0.5491" stop-color="#0000ff"/>
<stop offset="0.7870" stop-color="#0000ff"/>
</linearGradient>
<linearGradient id="g150" x1="0" y1="330" x2="0" y2="2642" gradientUnits="userSpaceOnUse">
<stop offset="0.1036" stop-color="#0008ff"/>
<stop offset="0.3112" stop-color="#0010ff"/>
<stop offset="0.5491" stop-color="#0000ff"/>
<stop offset="0.7870" stop-color="#0000ff"/>
</linearGradient>
<linearGradient id="g151" x1="0" y1="330" x2="0" y2="2642" gradientUnits="userSpaceOnUse">
<stop offset="0.1036" stop-color="#0020ff"/>
<stop offset="0.3112" stop-color="#0010ff"/>
<stop offset="0.5491" stop-color="#0010ff"/>
<stop offset="0.7870" stop-color="#0010ff"/>
</linearGradient>
<linearGradient id="g152" x1="0" y1="330" x2="0" y2="2642" gradientUnits="userSpaceOnUse">
<stop offset="0.1036" stop-color="#0020ff"/>
<stop offset="0.3112" stop-color="#0028ff"/>
<stop offset="0.5491" stop-color="#0010ff"/>
<stop offset="0.7870" stop-color="#0010ff"/>
</linearGradient>
<linearGradient id="g153" x1="0" y1="330" x2="0" y2="2642" gradientUnits="userSpaceOnUse">
<stop offset="0.1036" stop-color="#0040ff"/>
<stop offset="0.3112" stop-color="#0028ff"/>
<stop offset="0.5491" stop-color="#0010ff"/>
<stop offset="0.7870" stop-color="#0010ff"/>
</linearGradient>
<linearGradient id="g154" x1="0" y1="330" x2="0" y2="2642" gradientUnits="userSpaceOnUse">
<stop offset="0.1036" stop-color="#0040ff"/>
<stop offset="0.3112" stop-color="#0028ff"/>
<stop offset="0.5491" stop-color="#0040ff"/>
<stop offset="0.7870" stop-color="#0040ff"/>
</linearGradient>
<linearGradient id="g155" x1="0" y1="330" x2="0" y2="2642" gradientUnits="userSpaceOnUse">
<stop offset="0.1036" stop-color="#0040ff"/>
<stop offset="0.3112" stop-color="#0040ff"/>
<stop offset="0.5491" stop-color="#0040ff"/>
<stop offset="0.7870" stop-color="#0040ff"/>
</linearGradient>
<linearGradient id="g156" x1="0" y1="330" x2="0" y2="2642" gradientUnits="userSpaceOnUse">
<stop offset="0.1036" stop-color="#0040ff"/>
<stop offset="0.3112" stop-color="#0030ff"/>
<stop offset="0.5491" stop-color="#0040ff"/>
<stop offset="0.7870" stop-color="#0040ff"/>
</linearGradient>
<linearGradient id="g157" x1="0" y1="330" x2="0" y2="2642" gradientUnits="userSpaceOnUse">
<stop offset="0.1036" stop-color="#0040ff"/>
<stop offset="0.3112" stop-color="#0030ff"/>
<stop offset="0.5491" stop-color="#0010ff"/>
<stop offset="0.7870" stop-color="#0010ff"/>
</linearGradient>
<linearGradient id="g158" x1="0" y1="330" x2="0" y2="2642" gradientUnits="userSpaceOnUse">
<stop offset="0.1036" stop-color="#0030ff"/>
<stop offset="0.3112" stop-color="#0030ff"/>
<stop offset="0.5491" stop-color="#0010ff"/>
<stop offset="0.7870" stop-color="#0010ff"/>
</linearGradient>
<linearGradient id="g159" x1="0" y1="330" x2="0" y2="2642" gradientUnits="userSpaceOnUse">
<stop offset="0.1036" stop-color="#0030ff"/>
<stop offset="0.3112" stop-color="#0018ff"/>
<stop offset="0.5491" stop-color="#0010ff"/>
<stop offset="0.7870" stop-color="#0010ff"/>
</linearGradient>
<linearGradient id="g160" x1="0" y1="330" x2="0" y2="2642" gradientUnits="userSpaceOnUse">
<stop offset="0.1036" stop-color="#0020ff"/>
<stop offset="0.3112" stop-color="#0018ff"/>
<stop offset="0.5491" stop-color="#0010ff"/>
<stop offset="0.7870" stop-color="#0010ff"/>
</linearGradient>
<linearGradient id="g161" x1="0" y1="330" x2="0" y2="2642" gradientUnits="userSpaceOnUse">
<stop offset="0.1036" stop-color="#0020ff"/>
<stop offset="0.3112" stop-color="#0000ff"/>
<stop offset="0.5491" stop-color="#0010ff"/>
<stop offset="0.7870" stop-color="#0010ff"/>
</linearGradient>
<linearGradient id="g162" x1="0" y1="330" x2="0" y2="2642" gradientUnits="userSpaceOnUse">
<stop offset="0.1036" stop-color="#0020ff"/>
<stop offset="0.3112" stop-color="#0000ff"/>
<stop offset="0.5491" stop-color="#0000f7"/>
<stop offset="0.7870" stop-color="#0000f7"/>
</linearGradient>
<linearGradient id="g163" x1="0" y1="330" x2="0" y2="2642" gradientUnits="userSpaceOnUse">
<stop offset="0.1036" stop-color="#0010ff"/>
<stop offset="0.3112" stop-color="#0000ff"/>
<stop offset="0.5491" stop-color="#0000f7"/>
<stop offset="0.7870" stop-color="#0000f7"/>
</linearGradient>
<linearGradient id="g164" x1="0" y1="330" x2="0" y2="2642" gradientUnits="userSpaceOnUse">
<stop offset="0.1036" stop-color="#0010ff"/>
<stop offset="0.3112" stop-color="#0000f7"/>
<stop offset="0.5491" stop-color="#0000f7"/>
<stop offset="0.7870" stop-color="#0000f7"/>
</linearGradient>
<linearGradient id="g165" x1="0" y1="330" x2="0" y2="2642" gradientUnits="userSpaceOnUse">
<stop offset="0.1036" stop-color="#0010ff"/>
<stop offset="0.3112" stop-color="#0000f7"/>
<stop offset="0.5491" stop-color="#0000e7"/>
<stop offset="0.7870" stop-color="#0000e7"/>
</linearGradient>
<linearGradient id="g166" x1="0" y1="330" x2="0" y2="2642" gradientUnits="userSpaceOnUse">
<stop offset="0.1036" stop-color="#0010ff"/>
<stop offset="0.3112" stop-color="#0000ef"/>
<stop offset="0.5491" stop-color="#0000e7"/>
<stop offset="0.7870" stop-color="#0000e7"/>
</linearGradient>
<linearGradient id="g167" x1="0" y1="330" x2="0" y2="2642" gradientUnits="userSpaceOnUse">
<stop offset="0.1036" stop-color="#0040ff"/>
<stop offset="0.3112" stop-color="#0000ef"/>
<stop offset="0.5491" stop-color="#0000f7"/>
<stop offset="0.7870" stop-color="#0000f7"/>
</linearGradient>
<linearGradient id="g168" x1="0" y1="330" x2="0" y2="2642" gradientUnits="userSpaceOnUse">
<stop offset="0.1036" stop-color="#0040ff"/>
<stop offset="0.3112" stop-color="#0040ff"/>
<stop offset="0.5491" stop-color="#0040ff"/>
<stop offset="0.7870" stop-color="#0040ff"/>
</linearGradient>
<linearGradient id="g169" x1="0" y1="330" x2="0" y2="2642" gradientUnits="userSpaceOnUse">
<stop offset="0.1036" stop-color="#0040ff"/>
<stop offset="0.3112" stop-color="#0010ff"/>
<stop offset="0.5491" stop-color="#0000ff"/>
<stop offset="0.7870" stop-color="#0000ff"/>
</linearGradient>
<linearGradient id="g170" x1="0" y1="330" x2="0" y2="2642" gradientUnits="userSpaceOnUse">
<stop offset="0.1036" stop-color="#0010ff"/>
<stop offset="0.3112" stop-color="#0010ff"/>
<stop offset="0.5491" stop-color="#0000ff"/>
<stop offset="0.7870" stop-color="#0000ff"/>
</linearGradient>
<linearGradient id="g171" x1="0" y1="330" x2="0" y2="2642" gradientUnits="userSpaceOnUse">
<stop offset="0.1036" stop-color="#0010ff"/>
<stop offset="0.3112" stop-color="#0000ff"/>
<stop offset="0.5491" stop-color="#0000ff"/>
<stop offset="0.7870" stop-color="#0000ff"/>
</linearGradient>
<linearGradient id="g172" x1="0" y1="330" x2="0" y2="2642" gradientUnits="userSpaceOnUse">
<stop offset="0.1036" stop-color="#0000ff"/>
<stop offset="0.3112" stop-color="#0000ff"/>
<stop offset="0.5491" stop-color="#0000ef"/>
<stop offset="0.7870" stop-color="#0000ef"/>
</linearGradient>
<linearGradient id="g173" x1="0" y1="330" x2="0" y2="2642" gradientUnits="userSpaceOnUse">
<stop offset="0.1036" stop-color="#0000ff"/>
<stop offset="0.3112" stop-color="#0000e7"/>
<stop offset="0.5491" stop-color="#0000ef"/>
<stop offset="0.7870" stop-color="#0000ef"/>
</linearGradient>
<linearGradient id="g174" x1="0" y1="330" x2="0" y2="2642" gradientUnits="userSpaceOnUse">
<stop offset="0.1036" stop-color="#0000e7"/>
<stop offset="0.3112" stop-color="#0000e7"/>
<stop offset="0.5491" stop-color="#0000cf"/>
<stop offset="0.7870" stop-color="#0000cf"/>
</linearGradient>
<linearGradient id="g175" x1="0" y1="330" x2="0" y2="2642" gradientUnits="userSpaceOnUse">
<stop offset="0.1036" stop-color="#0000e7"/>
<stop offset="0.3112" stop-color="#0000c7"/>
<stop offset="0.5491" stop-color="#0000cf"/>
<stop offset="0.7870" stop-color="#0000cf"/>
</linearGradient>
<linearGradient id="g176" x1="0" y1="330" x2="0" y2="2642" gradientUnits="userSpaceOnUse">
<stop offset="0.1036" stop-color="#0000c7"/>
<stop offset="0.3112" stop-color="#0000c7"/>
<stop offset="0.5491" stop-color="#0000cf"/>
<stop offset="0.7870" stop-color="#0000cf"/>
</linearGradient>
<linearGradient id="g177" x1="0" y1="330" x2="0" y2="2642" gradientUnits="userSpaceOnUse">
<stop offset="0.1036" stop-color="#0000c7"/>
<stop offset="0.3112" stop-color="#0000c7"/>
<stop offset="0.5491" stop-color="#0000af"/>
<stop offset="0.7870" stop-color="#0000af"/>
</linearGradient>
<linearGradient id="g178" x1="0" y1="330" x2="0" y2="2642" gradientUnits="userSpaceOnUse">
<stop offset="0.1036" stop-color="#0000c7"/>
<stop offset="0.3112" stop-color="#0000b7"/>
<stop offset="0.5491" stop-color="#0000af"/>
<stop offset="0.7870" stop-color="#0000af"/>
</linearGradient>
<linearGradient id="g179" x1="0" y1="330" x2="0" y2="2642" gradientUnits="userSpaceOnUse">
<stop offset="0.1036" stop-color="#0000c7"/>
<stop offset="0.3112" stop-color="#0000cf"/>
<stop offset="0.5491" stop-color="#0000af"/>
<stop offset="0.7870" stop-color="#0000af"/>
</linearGradient>
<linearGradient id="g180" x1="0" y1="330" x2="0" y2="2642" gradientUnits="userSpaceOnUse">
<stop offset="0.1036" stop-color="#0000f7"/>
<stop offset="0.3112" stop-color="#0000cf"/>
<stop offset="0.5491" stop-color="#0000cf"/>
<stop offset="0.7870" stop-color="#0000cf"/>
</linearGradient>
<linearGradient id="g181" x1="0" y1="330" x2="0" y2="2642" gradientUnits="userSpaceOnUse">
<stop offset="0.1036" stop-color="#0000f7"/>
<stop offset="0.3112" stop-color="#0000cf"/>
<stop offset="0.5491" stop-color="#0000ef"/>
<stop offset="0.7870" stop-color="#0000ef"/>
</linearGradient>
<linearGradient id="g182" x1="0" y1="330" x2="0" y2="2642" gradientUnits="userSpaceOnUse">
<stop offset="0.1036" stop-color="#0000f7"/>
<stop offset="0.3112" stop-color="#0000f7"/>
<stop offset="0.5491" stop-color="#0000ef"/>
<stop offset="0.7870" stop-color="#0000ef"/>
</linearGradient>
<linearGradient id="g183" x1="0" y1="330" x2="0" y2="2642" gradientUnits="userSpaceOnUse">
<stop offset="0.1036" stop-color="#0000ff"/>
<stop offset="0.3112" stop-color="#0000f7"/>
<stop offset="0.5491" stop-color="#0000ef"/>
<stop offset="0.7870" stop-color="#0000ef"/>
</linearGradient>
<linearGradient id="g184" x1="0" y1="330" x2="0" y2="2642" gradientUnits="userSpaceOnUse">
<stop offset="0.1036" stop-color="#0000ff"/>
<stop offset="0.3112" stop-color="#0000f7"/>
<stop offset="0.5491" stop-color="#0000bf"/>
<stop offset="0.7870" stop-color="#0000bf"/>
</linearGradient>
<linearGradient id="g185" x1="0" y1="330" x2="0" y2="2642" gradientUnits="userSpaceOnUse">
<stop offset="0.1036" stop-color="#0000ff"/>
<stop offset="0.3112" stop-color="#0000df"/>
<stop offset="0.5491" stop-color="#0000bf"/>
<stop offset="0.7870" stop-color="#0000bf"/>
</linearGradient>
<linearGradient id="g186" x1="0" y1="330" x2="0" y2="2642" gradientUnits="userSpaceOnUse">
<stop offset="0.1036" stop-color="#0000d7"/>
<stop offset="0.3112" stop-color="#0000df"/>
<stop offset="0.5491" stop-color="#0000bf"/>
<stop offset="0.7870" stop-color="#0000bf"/>
</linearGradient>
<linearGradient id="g187" x1="0" y1="330" x2="0" y2="2642" gradientUnits="userSpaceOnUse">
<stop offset="0.1036" stop-color="#0000d7"/>
<stop offset="0.3112" stop-color="#0000c7"/>
<stop offset="0.5491" stop-color="#0000bf"/>
<stop offset="0.7870" stop-color="#0000bf"/>
</linearGradient>
<linearGradient id="g188" x1="0" y1="330" x2="0" y2="2642" gradientUnits="userSpaceOnUse">
<stop offset="0.1036" stop-color="#0000d7"/>
<stop offset="0.3112" stop-color="#0000c7"/>
<stop offset="0.5491" stop-color="#0000af"/>
<stop offset="0.7870" stop-color="#0000af"/>
</linearGradient>
<linearGradient id="g189" x1="0" y1="330" x2="0" y2="2642" gradientUnits="userSpaceOnUse">
<stop offset="0.1036" stop-color="#0000bf"/>
<stop offset="0.3112" stop-color="#0000c7"/>
<stop offset="0.5491" stop-color="#0000af"/>
<stop offset="0.7870" stop-color="#0000af"/>
</linearGradient>
<linearGradient id="g190" x1="0" y1="330" x2="0" y2="2642" gradientUnits="userSpaceOnUse">
<stop offset="0.1036" stop-color="#0000bf"/>
<stop offset="0.3112" stop-color="#0000a7"/>
<stop offset="0.5491" stop-color="#0000af"/>
<stop offset="0.7870" stop-color="#0000af"/>
</linearGradient>
<linearGradient id="g191" x1="0" y1="330" x2="0" y2="2642" gradientUnits="userSpaceOnUse">
<stop offset="0.1036" stop-color="#0000af"/>
<stop offset="0.3112" stop-color="#0000a7"/>
<stop offset="0.5491" stop-color="#0000af"/>
<stop offset="0.7870" stop-color="#0000af"/>
</linearGradient>
<linearGradient id="g192" x1="0" y1="330" x2="0" y2="2642" gradientUnits="userSpaceOnUse">
<stop offset="0.1036" stop-color="#0000af"/>
<stop offset="0.3112" stop-color="#0000a7"/>
<stop offset="0.5491" stop-color="#00009f"/>
<stop offset="0.7870" stop-color="#00009f"/>
</linearGradient>
<linearGradient id="g193" x1="0" y1="330" x2="0" y2="2642" gradientUnits="userSpaceOnUse">
<stop offset="0.1036" stop-color="#0000af"/>
<stop offset="0.3112" stop-color="#0000b7"/>
<stop offset="0.5491" stop-color="#00009f"/>
<stop offset="0.7870" stop-color="#00009f"/>
</linearGradient>
<linearGradient id="g194" x1="0" y1="330" x2="0" y2="2642" gradientUnits="userSpaceOnUse">
<stop offset="0.1036" stop-color="#0000af"/>
<stop offset="0.3112" stop-color="#0000b7"/>
<stop offset="0.5491" stop-color="#0000bf"/>
<stop offset="0.7870" stop-color="#0000bf"/>
</linearGradient>
<linearGradient id="g195" x1="0" y1="330" x2="0" y2="2642" gradientUnits="userSpaceOnUse">
<stop offset="0.1036" stop-color="#0000d7"/>
<stop offset="0.3112" stop-color="#0000b7"/>
<stop offset="0.5491" stop-color="#0000bf"/>
<stop offset="0.7870" stop-color="#0000bf"/>
</linearGradient>
<linearGradient id="g196" x1="0" y1="330" x2="0" y2="2642" gradientUnits="userSpaceOnUse">
<stop offset="0.1036" stop-color="#0000d7"/>
<stop offset="0.3112" stop-color="#0000d7"/>
<stop offset="0.5491" stop-color="#0000bf"/>
<stop offset="0.7870" stop-color="#0000bf"/>
</linearGradient>
<linearGradient id="g197" x1="0" y1="330" x2="0" y2="2642" gradientUnits="userSpaceOnUse">
<stop offset="0.1036" stop-color="#0000d7"/>
<stop offset="0.3112" stop-color="#0000d7"/>
<stop offset="0.5491" stop-color="#0000ef"/>
<stop offset="0.7870" stop-color="#0000ef"/>
</linearGradient>
<linearGradient id="g198" x1="0" y1="330" x2="0" y2="2642" gradientUnits="userSpaceOnUse">
<stop offset="0.1036" stop-color="#0000d7"/>
<stop offset="0.3112" stop-color="#0000ef"/>
<stop offset="0.5491" stop-color="#0000ef"/>
<stop offset="0.7870" stop-color="#0000ef"/>
</linearGradient>
<linearGradient id="g199" x1="0" y1="330" x2="0" y2="2642" gradientUnits="userSpaceOnUse">
<stop offset="0.1036" stop-color="#0000ff"/>
<stop offset="0.3112" stop-color="#0000ef"/>
<stop offset="0.5491" stop-color="#0000ef"/>
<stop offset="0.7870" stop-color="#0000ef"/>
</linearGradient>
<linearGradient id="g200" x1="0" y1="330" x2="0" y2="2642" gradientUnits="userSpaceOnUse">
<stop offset="0.1036" stop-color="#0000ff"/>
<stop offset="0.3112" stop-color="#0000ff"/>
<stop offset="0.5491" stop-color="#0000ef"/>
<stop offset="0.7870" stop-color="#0000ef"/>
</linearGradient>
<linearGradient id="g201" x1="0" y1="330" x2="0" y2="2642" gradientUnits="userSpaceOnUse">
<stop offset="0.1036" stop-color="#0018ff"/>
<stop offset="0.3112" stop-color="#0000ff"/>
<stop offset="0.5491" stop-color="#0000ef"/>
<stop offset="0.7870" stop-color="#0000ef"/>
</linearGradient>
<linearGradient id="g202" x1="0" y1="330" x2="0" y2="2642" gradientUnits="userSpaceOnUse">
<stop offset="0.1036" stop-color="#0008ff"/>
<stop offset="0.3112" stop-color="#0000ff"/>
<stop offset="0.5491" stop-color="#0000ef"/>
<stop offset="0.7870" stop-color="#0000ef"/>
</linearGradient>
<linearGradient id="g203" x1="0" y1="330" x2="0" y2="2642" gradientUnits="userSpaceOnUse">
<stop offset="0.1036" stop-color="#0008ff"/>
<stop offset="0.3112" stop-color="#0000ef"/>
<stop offset="0.5491" stop-color="#0000ef"/>
<stop offset="0.7870" stop-color="#0000ef"/>
</linearGradient>
<linearGradient id="g204" x1="0" y1="330" x2="0" y2="2642" gradientUnits="userSpaceOnUse">
<stop offset="0.1036" stop-color="#0008ff"/>
<stop offset="0.3112" stop-color="#0000ef"/>
<stop offset="0.5491" stop-color="#0000e7"/>
<stop offset="0.7870" stop-color="#0000e7"/>
</linearGradient>
<linearGradient id="g205" x1="0" y1="330" x2="0" y2="2642" gradientUnits="userSpaceOnUse">
<stop offset="0.1036" stop-color="#0008ff"/>
<stop offset="0.3112" stop-color="#0000e7"/>
<stop offset="0.5491" stop-color="#0000e7"/>
<stop offset="0.7870" stop-color="#0000e7"/>
</linearGradient>
<linearGradient id="g206" x1="0" y1="330" x2="0" y2="2642" gradientUnits="userSpaceOnUse">
<stop offset="0.1036" stop-color="#0008ff"/>
<stop offset="0.3112" stop-color="#0000ef"/>
<stop offset="0.5491" stop-color="#0000e7"/>
<stop offset="0.7870" stop-color="#0000e7"/>
</linearGradient>
<linearGradient id="g207" x1="0" y1="330" x2="0" y2="2642" gradientUnits="userSpaceOnUse">
<stop offset="0.1036" stop-color="#0020ff"/>
<stop offset="0.3112" stop-color="#0000ef"/>
<stop offset="0.5491" stop-color="#0000e7"/>
<stop offset="0.7870" stop-color="#0000e7"/>
</linearGradient>
<linearGradient id="g208" x1="0" y1="330" x2="0" y2="2642" gradientUnits="userSpaceOnUse">
<stop offset="0.1036" stop-color="#0020ff"/>
<stop offset="0.3112" stop-color="#0000f7"/>
<stop offset="0.5491" stop-color="#0000e7"/>
<stop offset="0.7870" stop-color="#0000e7"/>
</linearGradient>
<linearGradient id="g209" x1="0" y1="330" x2="0" y2="2642" gradientUnits="userSpaceOnUse">
<stop offset="0.1036" stop-color="#0020ff"/>
<stop offset="0.3112" stop-color="#0000f7"/>
<stop offset="0.5491" stop-color="#0000ff"/>
<stop offset="0.7870" stop-color="#0000ff"/>
</linearGradient>
<linearGradient id="g210" x1="0" y1="330" x2="0" y2="2642" gradientUnits="userSpaceOnUse">
<stop offset="0.1036" stop-color="#0020ff"/>
<stop offset="0.3112" stop-color="#0010ff"/>
<stop offset="0.5491" stop-color="#0000ff"/>
<stop offset="0.7870" stop-color="#0000ff"/>
</linearGradient>
<linearGradient id="g211" x1="0" y1="330" x2="0" y2="2642" gradientUnits="userSpaceOnUse">
<stop offset="0.1036" stop-color="#0008ff"/>
<stop offset="0.3112" stop-color="#0010ff"/>
<stop offset="0.5491" stop-color="#0000ff"/>
<stop offset="0.7870" stop-color="#0000ff"/>
</linearGradient>
<linearGradient id="g212" x1="0" y1="330" x2="0" y2="2642" gradientUnits="userSpaceOnUse">
<stop offset="0.1036" stop-color="#0008ff"/>
<stop offset="0.3112" stop-color="#0000ff"/>
<stop offset="0.5491" stop-color="#0000ff"/>
<stop offset="0.7870" stop-color="#0000ff"/>
</linearGradient>
<linearGradient id="g213" x1="0" y1="330" x2="0" y2="2642" gradientUnits="userSpaceOnUse">
<stop offset="0.1036" stop-color="#0008ff"/>
<stop offset="0.3112" stop-color="#0000ff"/>
<stop offset="0.5491" stop-color="#0000ef"/>
<stop offset="0.7870" stop-color="#0000ef"/>
</linearGradient>
<linearGradient id="g214" x1="0" y1="330" x2="0" y2="2642" gradientUnits="userSpaceOnUse">
<stop offset="0.1036" stop-color="#0008ff"/>
<stop offset="0.3112" stop-color="#0000ef"/>
<stop offset="0.5491" stop-color="#0000ef"/>
<stop offset="0.7870" stop-color="#0000ef"/>
</linearGradient>
<linearGradient id="g215" x1="0" y1="330" x2="0" y2="2642" gradientUnits="userSpaceOnUse">
<stop offset="0.1036" stop-color="#0000ff"/>
<stop offset="0.3112" stop-color="#0000ef"/>
<stop offset="0.5491" stop-color="#0000ef"/>
<stop offset="0.7870" stop-color="#0000ef"/>
</linearGradient>
<linearGradient id="g216" x1="0" y1="330" x2="0" y2="2642" gradientUnits="userSpaceOnUse">
<stop offset="0.1036" stop-color="#0000ff"/>
<stop offset="0.3112" stop-color="#0000ff"/>
<stop offset="0.5491" stop-color="#0000ef"/>
<stop offset="0.7870" stop-color="#0000ef"/>
</linearGradient>
<linearGradient id="g217" x1="0" y1="330" x2="0" y2="2642" gradientUnits="userSpaceOnUse">
<stop offset="0.1036" stop-color="#0000ff"/>
<stop offset="0.3112" stop-color="#0000ff"/>
<stop offset="0.5491" stop-color="#0000ff"/>
<stop offset="0.7870" stop-color="#0000ff"/>
</linearGradient>
<linearGradient id="g218" x1="0" y1="330" x2="0" y2="2642" gradientUnits="userSpaceOnUse">
<stop offset="0.1036" stop-color="#0020ff"/>
<stop offset="0.3112" stop-color="#0010ff"/>
<stop offset="0.5491" stop-color="#0000ff"/>
<stop offset="0.7870" stop-color="#0000ff"/>
</linearGradient>
<linearGradient id="g219" x1="0" y1="330" x2="0" y2="2642" gradientUnits="userSpaceOnUse">
<stop offset="0.1036" stop-color="#0018ff"/>
<stop offset="0.3112" stop-color="#0000ff"/>
<stop offset="0.5491" stop-color="#0000ff"/>
<stop offset="0.7870" stop-color="#0000ff"/>
</linearGradient>
<linearGradient id="g220" x1="0" y1="330" x2="0" y2="2642" gradientUnits="userSpaceOnUse">
<stop offset="0.1036" stop-color="#0018ff"/>
<stop offset="0.3112" stop-color="#0000ff"/>
<stop offset="0.5491" stop-color="#0000df"/>
<stop offset="0.7870" stop-color="#0000df"/>
</linearGradient>
<linearGradient id="g221" x1="0" y1="330" x2="0" y2="2642" gradientUnits="userSpaceOnUse">
<stop offset="0.1036" stop-color="#0018ff"/>
<stop offset="0.3112" stop-color="#0000ef"/>
<stop offset="0.5491" stop-color="#0000df"/>
<stop offset="0.7870" stop-color="#0000df"/>
</linearGradient>
<linearGradient id="g222" x1="0" y1="330" x2="0" y2="2642" gradientUnits="userSpaceOnUse">
<stop offset="0.1036" stop-color="#0018ff"/>
<stop offset="0.3112" stop-color="#0000f7"/>
<stop offset="0.5491" stop-color="#0000df"/>
<stop offset="0.7870" stop-color="#0000df"/>
</linearGradient>
<linearGradient id="g223" x1="0" y1="330" x2="0" y2="2642" gradientUnits="userSpaceOnUse">
<stop offset="0.1036" stop-color="#0018ff"/>
<stop offset="0.3112" stop-color="#0000f7"/>
<stop offset="0.5491" stop-color="#0000ef"/>
<stop offset="0.7870" stop-color="#0000ef"/>
</linearGradient>
<linearGradient id="g224" x1="0" y1="330" x2="0" y2="2642" gradientUnits="userSpaceOnUse">
<stop offset="0.1036" stop-color="#0000ff"/>
<stop offset="0.3112" stop-color="#0000f7"/>
<stop offset="0.5491" stop-color="#0000ef"/>
<stop offset="0.7870" stop-color="#0000ef"/>
</linearGradient>
<linearGradient id="g225" x1="0" y1="330" x2="0" y2="2642" gradientUnits="userSpaceOnUse">
<stop offset="0.1036" stop-color="#0000ff"/>
<stop offset="0.3112" stop-color="#0000f7"/>
<stop offset="0.5491" stop-color="#0000df"/>
<stop offset="0.7870" stop-color="#0000df"/>
</linearGradient>
<linearGradient id="g226" x1="0" y1="330" x2="0" y2="2642" gradientUnits="userSpaceOnUse">
<stop offset="0.1036" stop-color="#0000ff"/>
<stop offset="0.3112" stop-color="#0000e7"/>
<stop offset="0.5491" stop-color="#0000df"/>
<stop offset="0.7870" stop-color="#0000df"/>
</linearGradient>
<linearGradient id="g227" x1="0" y1="330" x2="0" y2="2642" gradientUnits="userSpaceOnUse">
<stop offset="0.1036" stop-color="#0000df"/>
<stop offset="0.3112" stop-color="#0000e7"/>
<stop offset="0.5491" stop-color="#0000df"/>
<stop offset="0.7870" stop-color="#0000df"/>
</linearGradient>
<linearGradient id="g228" x1="0" y1="330" x2="0" y2="2642" gradientUnits="userSpaceOnUse">
<stop offset="0.1036" stop-color="#0000df"/>
<stop offset="0.3112" stop-color="#0000ef"/>
<stop offset="0.5491" stop-color="#0000df"/>
<stop offset="0.7870" stop-color="#0000df"/>
</linearGradient>
<linearGradient id="g229" x1="0" y1="330" x2="0" y2="2642" gradientUnits="userSpaceOnUse">
<stop offset="0.1036" stop-color="#0000df"/>
<stop offset="0.3112" stop-color="#0000ef"/>
<stop offset="0.5491" stop-color="#0000bf"/>
<stop offset="0.7870" stop-color="#0000bf"/>
</linearGradient>
<linearGradient id="g230" x1="0" y1="330" x2="0" y2="2642" gradientUnits="userSpaceOnUse">
<stop offset="0.1036" stop-color="#0000b7"/>
<stop offset="0.3112" stop-color="#0000ef"/>
<stop offset="0.5491" stop-color="#0000bf"/>
<stop offset="0.7870" stop-color="#0000bf"/>
</linearGradient>
<linearGradient id="g231" x1="0" y1="330" x2="0" y2="2642" gradientUnits="userSpaceOnUse">
<stop offset="0.1036" stop-color="#0000b7"/>
<stop offset="0.3112" stop-color="#0000cf"/>
<stop offset="0.5491" stop-color="#0000bf"/>
<stop offset="0.7870" stop-color="#0000bf"/>
</linearGradient>
<linearGradient id="g232" x1="0" y1="330" x2="0" y2="2642" gradientUnits="userSpaceOnUse">
<stop offset="0.1036" stop-color="#0000b7"/>
<stop offset="0.3112" stop-color="#0000b7"/>
<stop offset="0.5491" stop-color="#0000bf"/>
<stop offset="0.7870" stop-color="#0000bf"/>
</linearGradient>
<linearGradient id="g233" x1="0" y1="330" x2="0" y2="2642" gradientUnits="userSpaceOnUse">
<stop offset="0.1036" stop-color="#0000b7"/>
<stop offset="0.3112" stop-color="#0000b7"/>
<stop offset="0.5491" stop-color="#0000a7"/>
<stop offset="0.7870" stop-color="#0000a7"/>
</linearGradient>
<linearGradient id="g234" x1="0" y1="330" x2="0" y2="2642" gradientUnits="userSpaceOnUse">
<stop offset="0.1036" stop-color="#0000b7"/>
<stop offset="0.3112" stop-color="#00009f"/>
<stop offset="0.5491" stop-color="#0000a7"/>
<stop offset="0.7870" stop-color="#0000a7"/>
</linearGradient>
<linearGradient id="g235" x1="0" y1="330" x2="0" y2="2642" gradientUnits="userSpaceOnUse">
<stop offset="0.1036" stop-color="#0000bf"/>
<stop offset="0.3112" stop-color="#00009f"/>
<stop offset="0.5491" stop-color="#0000af"/>
<stop offset="0.7870" stop-color="#0000af"/>
</linearGradient>
<linearGradient id="g236" x1="0" y1="330" x2="0" y2="2642" gradientUnits="userSpaceOnUse">
<stop offset="0.1036" stop-color="#0000bf"/>
<stop offset="0.3112" stop-color="#0000b7"/>
<stop offset="0.5491" stop-color="#0000af"/>
<stop offset="0.7870" stop-color="#0000af"/>
</linearGradient>
<linearGradient id="g237" x1="0" y1="330" x2="0" y2="2642" gradientUnits="userSpaceOnUse">
<stop offset="0.1036" stop-color="#0000bf"/>
<stop offset="0.3112" stop-color="#0000b7"/>
<stop offset="0.5491" stop-color="#0000c7"/>
<stop offset="0.7870" stop-color="#0000c7"/>
</linearGradient>
<linearGradient id="g238" x1="0" y1="330" x2="0" y2="2642" gradientUnits="userSpaceOnUse">
<stop offset="0.1036" stop-color="#0000ef"/>
<stop offset="0.3112" stop-color="#0000b7"/>
<stop offset="0.5491" stop-color="#0000c7"/>
<stop offset="0.7870" stop-color="#0000c7"/>
</linearGradient>
<linearGradient id="g239" x1="0" y1="330" x2="0" y2="2642" gradientUnits="userSpaceOnUse">
<stop offset="0.1036" stop-color="#0000ef"/>
<stop offset="0.3112" stop-color="#0000e7"/>
<stop offset="0.5491" stop-color="#0000c7"/>
<stop offset="0.7870" stop-color="#0000c7"/>
</linearGradient>
<linearGradient id="g240" x1="0" y1="330" x2="0" y2="2642" gradientUnits="userSpaceOnUse">
<stop offset="0.1036" stop-color="#0000ef"/>
<stop offset="0.3112" stop-color="#0000e7"/>
<stop offset="0.5491" stop-color="#0000e7"/>
<stop offset="0.7870" stop-color="#0000e7"/>
</linearGradient>
<linearGradient id="g241" x1="0" y1="330" x2="0" y2="2642" gradientUnits="userSpaceOnUse">
<stop offset="0.1036" stop-color="#0020ff"/>
<stop offset="0.3112" stop-color="#0000e7"/>
<stop offset="0.5491" stop-color="#0000e7"/>
<stop offset="0.7870" stop-color="#0000e7"/>
</linearGradient>
<linearGradient id="g242" x1="0" y1="330" x2="0" y2="2642" gradientUnits="userSpaceOnUse">
<stop offset="0.1036" stop-color="#0020ff"/>
<stop offset="0.3112" stop-color="#0000ff"/>
<stop offset="0.5491" stop-color="#0000e7"/>
<stop offset="0.7870" stop-color="#0000e7"/>
</linearGradient>
<linearGradient id="g243" x1="0" y1="330" x2="0" y2="2642" gradientUnits="userSpaceOnUse">
<stop offset="0.1036" stop-color="#0008ff"/>
<stop offset="0.3112" stop-color="#0000ff"/>
<stop offset="0.5491" stop-color="#0000ff"/>
<stop offset="0.7870" stop-color="#0000ff"/>
</linearGradient>
<linearGradient id="g244" x1="0" y1="330" x2="0" y2="2642" gradientUnits="userSpaceOnUse">
<stop offset="0.1036" stop-color="#0000df"/>
<stop offset="0.3112" stop-color="#0000ff"/>
<stop offset="0.5491" stop-color="#0000ff"/>
<stop offset="0.7870" stop-color="#0000ff"/>
</linearGradient>
<linearGradient id="g245" x1="0" y1="330" x2="0" y2="2642" gradientUnits="userSpaceOnUse">
<stop offset="0.1036" stop-color="#0000df"/>
<stop offset="0.3112" stop-color="#0000ff"/>
<stop offset="0.5491" stop-color="#0000d7"/>
<stop offset="0.7870" stop-color="#0000d7"/>
</linearGradient>
<linearGradient id="g246" x1="0" y1="330" x2="0" y2="2642" gradientUnits="userSpaceOnUse">
<stop offset="0.1036" stop-color="#0000df"/>
<stop offset="0.3112" stop-color="#0000cf"/>
<stop offset="0.5491" stop-color="#0000d7"/>
<stop offset="0.7870" stop-color="#0000d7"/>
</linearGradient>
<linearGradient id="g247" x1="0" y1="330" x2="0" y2="2642" gradientUnits="userSpaceOnUse">
<stop offset="0.1036" stop-color="#0000bf"/>
<stop offset="0.3112" stop-color="#0000cf"/>
<stop offset="0.5491" stop-color="#0000d7"/>
<stop offset="0.7870" stop-color="#0000d7"/>
</linearGradient>
<linearGradient id="g248" x1="0" y1="330" x2="0" y2="2642" gradientUnits="userSpaceOnUse">
<stop offset="0.1036" stop-color="#0000bf"/>
<stop offset="0.3112" stop-color="#0000cf"/>
<stop offset="0.5491" stop-color="#0000b7"/>
<stop offset="0.7870" stop-color="#0000b7"/>
</linearGradient>
<linearGradient id="g249" x1="0" y1="330" x2="0" y2="2642" gradientUnits="userSpaceOnUse">
<stop offset="0.1036" stop-color="#0000bf"/>
<stop offset="0.3112" stop-color="#0000af"/>
<stop offset="0.5491" stop-color="#0000b7"/>
<stop offset="0.7870" stop-color="#0000b7"/>
</linearGradient>
<linearGradient id="g250" x1="0" y1="330" x2="0" y2="2642" gradientUnits="userSpaceOnUse">
<stop offset="0.1036" stop-color="#0000a7"/>
<stop offset="0.3112" stop-color="#0000af"/>
<stop offset="0.5491" stop-color="#00009f"/>
<stop offset="0.7870" stop-color="#00009f"/>
</linearGradient>
<linearGradient id="g251" x1="0" y1="330" x2="0" y2="2642" gradientUnits="userSpaceOnUse">
<stop offset="0.1036" stop-color="#0000a7"/>
<stop offset="0.3112" stop-color="#00009f"/>
<stop offset="0.5491" stop-color="#00009f"/>
<stop offset="0.7870" stop-color="#00009f"/>
</linearGradient>
<linearGradient id="g252" x1="0" y1="330" x2="0" y2="2642" gradientUnits="userSpaceOnUse">
<stop offset="0.1036" stop-color="#0000a7"/>
<stop offset="0.3112" stop-color="#0000af"/>
<stop offset="0.5491" stop-color="#00009f"/>
<stop offset="0.7870" stop-color="#00009f"/>
</linearGradient>
<linearGradient id="g253" x1="0" y1="330" x2="0" y2="2642" gradientUnits="userSpaceOnUse">
<stop offset="0.1036" stop-color="#0000bf"/>
<stop offset="0.3112" stop-color="#0000af"/>
<stop offset="0.5491" stop-color="#0000af"/>
<stop offset="0.7870" stop-color="#0000af"/>
</linearGradient>
<linearGradient id="g254" x1="0" y1="330" x2="0" y2="2642" gradientUnits="userSpaceOnUse">
<stop offset="0.1036" stop-color="#0000bf"/>
<stop offset="0.3112" stop-color="#0000c7"/>
<stop offset="0.5491" stop-color="#0000af"/>
<stop offset="0.7870" stop-color="#0000af"/>
</linearGradient>
<linearGradient id="g255" x1="0" y1="330" x2="0" y2="2642" gradientUnits="userSpaceOnUse">
<stop offset="0.1036" stop-color="#0000bf"/>
<stop offset="0.3112" stop-color="#0000c7"/>
<stop offset="0.5491" stop-color="#0000bf"/>
<stop offset="0.7870" stop-color="#0000bf"/>
</linearGradient>
<linearGradient id="g256" x1="0" y1="330" x2="0" y2="2642" gradientUnits="userSpaceOnUse">
<stop offset="0.1036" stop-color="#0000bf"/>
<stop offset="0.3112" stop-color="#0000df"/>
<stop offset="0.5491" stop-color="#0000bf"/>
<stop offset="0.7870" stop-color="#0000bf"/>
</linearGradient>
<linearGradient id="g257" x1="0" y1="330" x2="0" y2="2642" gradientUnits="userSpaceOnUse">
<stop offset="0.1036" stop-color="#0000ef"/>
<stop offset="0.3112" stop-color="#0000df"/>
<stop offset="0.5491" stop-color="#0000d7"/>
<stop offset="0.7870" stop-color="#0000d7"/>
</linearGradient>
<linearGradient id="g258" x1="0" y1="330" x2="0" y2="2642" gradientUnits="userSpaceOnUse">
<stop offset="0.1036" stop-color="#0000ef"/>
<stop offset="0.3112" stop-color="#0000f7"/>
<stop offset="0.5491" stop-color="#0000d7"/>
<stop offset="0.7870" stop-color="#0000d7"/>
</linearGradient>
<linearGradient id="g259" x1="0" y1="330" x2="0" y2="2642" gradientUnits="userSpaceOnUse">
<stop offset="0.1036" stop-color="#0000ef"/>
<stop offset="0.3112" stop-color="#0000f7"/>
<stop offset="0.5491" stop-color="#0000ef"/>
<stop offset="0.7870" stop-color="#0000ef"/>
</linearGradient>
<linearGradient id="g260" x1="0" y1="330" x2="0" y2="2642" gradientUnits="userSpaceOnUse">
<stop offset="0.1036" stop-color="#0000ef"/>
<stop offset="0.3112" stop-color="#0000cf"/>
<stop offset="0.5491" stop-color="#0000ef"/>
<stop offset="0.7870" stop-color="#0000ef"/>
</linearGradient>
<linearGradient id="g261" x1="0" y1="330" x2="0" y2="2642" gradientUnits="userSpaceOnUse">
<stop offset="0.1036" stop-color="#0000ef"/>
<stop offset="0.3112" stop-color="#0000bf"/>
<stop offset="0.5491" stop-color="#0000ef"/>
<stop offset="0.7870" stop-color="#0000ef"/>
</linearGradient>
<linearGradient id="g262" x1="0" y1="330" x2="0" y2="2642" gradientUnits="userSpaceOnUse">
<stop offset="0.1036" stop-color="#0000b7"/>
<stop offset="0.3112" stop-color="#0000bf"/>
<stop offset="0.5491" stop-color="#0000af"/>
<stop offset="0.7870" stop-color="#0000af"/>
</linearGradient>
<linearGradient id="g263" x1="0" y1="330" x2="0" y2="2642" gradientUnits="userSpaceOnUse">
<stop offset="0.1036" stop-color="#0000b7"/>
<stop offset="0.3112" stop-color="#00009f"/>
<stop offset="0.5491" stop-color="#0000af"/>
<stop offset="0.7870" stop-color="#0000af"/>
</linearGradient>
<linearGradient id="g264" x1="0" y1="330" x2="0" y2="2642" gradientUnits="userSpaceOnUse">
<stop offset="0.1036" stop-color="#0000b7"/>
<stop offset="0.3112" stop-color="#0000bf"/>
<stop offset="0.5491" stop-color="#0000af"/>
<stop offset="0.7870" stop-color="#0000af"/>
</linearGradient>
<linearGradient id="g265" x1="0" y1="330" x2="0" y2="2642" gradientUnits="userSpaceOnUse">
<stop offset="0.1036" stop-color="#0000b7"/>
<stop offset="0.3112" stop-color="#0000bf"/>
<stop offset="0.5491" stop-color="#0000c7"/>
<stop offset="0.7870" stop-color="#0000c7"/>
</linearGradient>
<linearGradient id="g266" x1="0" y1="330" x2="0" y2="2642" gradientUnits="userSpaceOnUse">
<stop offset="0.1036" stop-color="#0000ff"/>
<stop offset="0.3112" stop-color="#0000bf"/>
<stop offset="0.5491" stop-color="#0000c7"/>
<stop offset="0.7870" stop-color="#0000c7"/>
</linearGradient>
<linearGradient id="g267" x1="0" y1="330" x2="0" y2="2642" gradientUnits="userSpaceOnUse">
<stop offset="0.1036" stop-color="#0000ff"/>
<stop offset="0.3112" stop-color="#0000e7"/>
<stop offset="0.5491" stop-color="#0000c7"/>
<stop offset="0.7870" stop-color="#0000c7"/>
</linearGradient>
<linearGradient id="g268" x1="0" y1="330" x2="0" y2="2642" gradientUnits="userSpaceOnUse">
<stop offset="0.1036" stop-color="#0000ff"/>
<stop offset="0.3112" stop-color="#0000e7"/>
<stop offset="0.5491" stop-color="#0000e7"/>
<stop offset="0.7870" stop-color="#0000e7"/>
</linearGradient>
<linearGradient id="g269" x1="0" y1="330" x2="0" y2="2642" gradientUnits="userSpaceOnUse">
<stop offset="0.1036" stop-color="#0000ff"/>
<stop offset="0.3112" stop-color="#0000e7"/>
<stop offset="0.5491" stop-color="#0000ff"/>
<stop offset="0.7870" stop-color="#0000ff"/>
</linearGradient>
<linearGradient id="g270" x1="0" y1="330" x2="0" y2="2642" gradientUnits="userSpaceOnUse">
<stop offset="0.1036" stop-color="#0000ff"/>
<stop offset="0.3112" stop-color="#0000ff"/>
<stop offset="0.5491" stop-color="#0000ff"/>
<stop offset="0.7870" stop-color="#0000ff"/>
</linearGradient>
<linearGradient id="g271" x1="0" y1="330" x2="0" y2="2642" gradientUnits="userSpaceOnUse">
<stop offset="0.1036" stop-color="#0000ff"/>
<stop offset="0.3112" stop-color="#0000ff"/>
<stop offset="0.5491" stop-color="#0000d7"/>
<stop offset="0.7870" stop-color="#0000d7"/>
</linearGradient>
<linearGradient id="g272" x1="0" y1="330" x2="0" y2="2642" gradientUnits="userSpaceOnUse">
<stop offset="0.1036" stop-color="#0000ff"/>
<stop offset="0.3112" stop-color="#0000df"/>
<stop offset="0.5491" stop-color="#0000d7"/>
<stop offset="0.7870" stop-color="#0000d7"/>
</linearGradient>
<linearGradient id="g273" x1="0" y1="330" x2="0" y2="2642" gradientUnits="userSpaceOnUse">
<stop offset="0.1036" stop-color="#0000d7"/>
<stop offset="0.3112" stop-color="#0000df"/>
<stop offset="0.5491" stop-color="#0000d7"/>
<stop offset="0.7870" stop-color="#0000d7"/>
</linearGradient>
<linearGradient id="g274" x1="0" y1="330" x2="0" y2="2642" gradientUnits="userSpaceOnUse">
<stop offset="0.1036" stop-color="#0000d7"/>
<stop offset="0.3112" stop-color="#0000c7"/>
<stop offset="0.5491" stop-color="#0000d7"/>
<stop offset="0.7870" stop-color="#0000d7"/>
</linearGradient>
<linearGradient id="g275" x1="0" y1="330" x2="0" y2="2642" gradientUnits="userSpaceOnUse">
<stop offset="0.1036" stop-color="#0000c7"/>
<stop offset="0.3112" stop-color="#0000c7"/>
<stop offset="0.5491" stop-color="#0000bf"/>
<stop offset="0.7870" stop-color="#0000bf"/>
</linearGradient>
<linearGradient id="g276" x1="0" y1="330" x2="0" y2="2642" gradientUnits="userSpaceOnUse">
<stop offset="0.1036" stop-color="#0000c7"/>
<stop offset="0.3112" stop-color="#0000af"/>
<stop offset="0.5491" stop-color="#0000bf"/>
<stop offset="0.7870" stop-color="#0000bf"/>
</linearGradient>
<linearGradient id="g277" x1="0" y1="330" x2="0" y2="2642" gradientUnits="userSpaceOnUse">
<stop offset="0.1036" stop-color="#0000af"/>
<stop offset="0.3112" stop-color="#0000af"/>
<stop offset="0.5491" stop-color="#0000a7"/>
<stop offset="0.7870" stop-color="#0000a7"/>
</linearGradient>
<linearGradient id="g278" x1="0" y1="330" x2="0" y2="2642" gradientUnits="userSpaceOnUse">
<stop offset="0.1036" stop-color="#0000af"/>
<stop offset="0.3112" stop-color="#00009f"/>
<stop offset="0.5491" stop-color="#0000a7"/>
<stop offset="0.7870" stop-color="#0000a7"/>
</linearGradient>
<linearGradient id="g279" x1="0" y1="330" x2="0" y2="2642" gradientUnits="userSpaceOnUse">
<stop offset="0.1036" stop-color="#0000af"/>
<stop offset="0.3112" stop-color="#0000bf"/>
<stop offset="0.5491" stop-color="#0000a7"/>
<stop offset="0.7870" stop-color="#0000a7"/>
</linearGradient>
<linearGradient id="g280" x1="0" y1="330" x2="0" y2="2642" gradientUnits="userSpaceOnUse">
<stop offset="0.1036" stop-color="#0000af"/>
<stop offset="0.3112" stop-color="#0000bf"/>
<stop offset="0.5491" stop-color="#0000cf"/>
<stop offset="0.7870" stop-color="#0000cf"/>
</linearGradient>
<linearGradient id="g281" x1="0" y1="330" x2="0" y2="2642" gradientUnits="userSpaceOnUse">
<stop offset="0.1036" stop-color="#0000df"/>
<stop offset="0.3112" stop-color="#0000bf"/>
<stop offset="0.5491" stop-color="#0000cf"/>
<stop offset="0.7870" stop-color="#0000cf"/>
</linearGradient>
<linearGradient id="g282" x1="0" y1="330" x2="0" y2="2642" gradientUnits="userSpaceOnUse">
<stop offset="0.1036" stop-color="#0000ff"/>
<stop offset="0.7870" stop-color="#0000ff"/>
</linearGradient>
<linearGradient id="g283" x1="0" y1="330" x2="0" y2="2642" gradientUnits="userSpaceOnUse">
<stop offset="0.1036" stop-color="#0000ff"/>
<stop offset="0.7870" stop-color="#0000ff"/>
</linearGradient>
<linearGradient id="g284" x1="0" y1="330" x2="0" y2="2642" gradientUnits="userSpaceOnUse">
<stop offset="0.1036" stop-color="#0020ff"/>
<stop offset="0.3112" stop-color="#0020ff"/>
<stop offset="0.5491" stop-color="#0020ff"/>
<stop offset="0.7870" stop-color="#0020ff"/>
</linearGradient>
<linearGradient id="g285" x1="0" y1="330" x2="0" y2="2642" gradientUnits="userSpaceOnUse">
<stop offset="0.0154" stop-color="#009fff"/>
<stop offset="0.0733" stop-color="#0080ff"/>
<stop offset="0.1352" stop-color="#0070ff"/>
<stop offset="0.1598" stop-color="#0040ff"/>
<stop offset="0.3112" stop-color="#0030ff"/>
<stop offset="0.5491" stop-color="#0020ff"/>
<stop offset="0.7870" stop-color="#0010ff"/>
</linearGradient>
<linearGradient id="g286" x1="0" y1="330" x2="0" y2="2642" gradientUnits="userSpaceOnUse">
<stop offset="0.0154" stop-color="#0050ff"/>
<stop offset="0.1352" stop-color="#0030ff"/>
<stop offset="0.1598" stop-color="#0020ff"/>
<stop offset="0.3112" stop-color="#0018ff"/>
<stop offset="0.5491" stop-color="#0010ff"/>
<stop offset="0.7870" stop-color="#0008ff"/>
</linearGradient>
<linearGradient id="g287" x1="0" y1="330" x2="0" y2="2642" gradientUnits="userSpaceOnUse">
<stop offset="0.1036" stop-color="#0008ff"/>
<stop offset="0.3112" stop-color="#0000ff"/>
<stop offset="0.5491" stop-color="#0008ff"/>
<stop offset="0.7870" stop-color="#0008ff"/>
</linearGradient>
<linearGradient id="g288" x1="0" y1="330" x2="0" y2="2642" gradientUnits="userSpaceOnUse">
<stop offset="0.1036" stop-color="#0008ff"/>
<stop offset="0.3112" stop-color="#0000ef"/>
<stop offset="0.5491" stop-color="#0008ff"/>
<stop offset="0.7870" stop-color="#0008ff"/>
</linearGradient>
<linearGradient id="g289" x1="0" y1="330" x2="0" y2="2642" gradientUnits="userSpaceOnUse">
<stop offset="0.1036" stop-color="#0008ff"/>
<stop offset="0.3112" stop-color="#0000ef"/>
<stop offset="0.5491" stop-color="#0000ef"/>
<stop offset="0.7870" stop-color="#0000ef"/>
</linearGradient>
<linearGradient id="g290" x1="0" y1="330" x2="0" y2="2642" gradientUnits="userSpaceOnUse">
<stop offset="0.1036" stop-color="#0000e7"/>
<stop offset="0.3112" stop-color="#0000ef"/>
<stop offset="0.5491" stop-color="#0000ef"/>
<stop offset="0.7870" stop-color="#0000ef"/>
</linearGradient>
<linearGradient id="g291" x1="0" y1="330" x2="0" y2="2642" gradientUnits="userSpaceOnUse">
<stop offset="0.1036" stop-color="#0000e7"/>
<stop offset="0.3112" stop-color="#0000df"/>
<stop offset="0.5491" stop-color="#0000ef"/>
<stop offset="0.7870" stop-color="#0000ef"/>
</linearGradient>
<linearGradient id="g292" x1="0" y1="330" x2="0" y2="2642" gradientUnits="userSpaceOnUse">
<stop offset="0.1036" stop-color="#0000e7"/>
<stop offset="0.3112" stop-color="#0000df"/>
<stop offset="0.5491" stop-color="#0000cf"/>
<stop offset="0.7870" stop-color="#0000cf"/>
</linearGradient>
<linearGradient id="g293" x1="0" y1="330" x2="0" y2="2642" gradientUnits="userSpaceOnUse">
<stop offset="0.1036" stop-color="#0000e7"/>
<stop offset="0.3112" stop-color="#0000c7"/>
<stop offset="0.5491" stop-color="#0000cf"/>
<stop offset="0.7870" stop-color="#0000cf"/>
</linearGradient>
<linearGradient id="g294" x1="0" y1="330" x2="0" y2="2642" gradientUnits="userSpaceOnUse">
<stop offset="0.1036" stop-color="#0000e7"/>
<stop offset="0.3112" stop-color="#0000e7"/>
<stop offset="0.5491" stop-color="#0000cf"/>
<stop offset="0.7870" stop-color="#0000cf"/>
</linearGradient>
<linearGradient id="g295" x1="0" y1="330" x2="0" y2="2642" gradientUnits="userSpaceOnUse">
<stop offset="0.1036" stop-color="#0000e7"/>
<stop offset="0.3112" stop-color="#0000e7"/>
<stop offset="0.5491" stop-color="#0000e7"/>
<stop offset="0.7870" stop-color="#0000e7"/>
</linearGradient>
<linearGradient id="g296" x1="0" y1="330" x2="0" y2="2642" gradientUnits="userSpaceOnUse">
<stop offset="0.1036" stop-color="#0000e7"/>
<stop offset="0.3112" stop-color="#0000f7"/>
<stop offset="0.5491" stop-color="#0000e7"/>
<stop offset="0.7870" stop-color="#0000e7"/>
</linearGradient>
<linearGradient id="g297" x1="0" y1="330" x2="0" y2="2642" gradientUnits="userSpaceOnUse">
<stop offset="0.1036" stop-color="#0000f7"/>
<stop offset="0.3112" stop-color="#0000f7"/>
<stop offset="0.5491" stop-color="#0000e7"/>
<stop offset="0.7870" stop-color="#0000e7"/>
</linearGradient>
<linearGradient id="g298" x1="0" y1="330" x2="0" y2="2642" gradientUnits="userSpaceOnUse">
<stop offset="0.1036" stop-color="#0000f7"/>
<stop offset="0.3112" stop-color="#0000e7"/>
<stop offset="0.5491" stop-color="#0000e7"/>
<stop offset="0.7870" stop-color="#0000e7"/>
</linearGradient>
<linearGradient id="g299" x1="0" y1="330" x2="0" y2="2642" gradientUnits="userSpaceOnUse">
<stop offset="0.1036" stop-color="#0000e7"/>
<stop offset="0.3112" stop-color="#0000e7"/>
<stop offset="0.5491" stop-color="#0000e7"/>
<stop offset="0.7870" stop-color="#0000e7"/>
</linearGradient>
<linearGradient id="g300" x1="0" y1="330" x2="0" y2="2642" gradientUnits="userSpaceOnUse">
<stop offset="0.1036" stop-color="#0000e7"/>
<stop offset="0.3112" stop-color="#0000e7"/>
<stop offset="0.5491" stop-color="#0000d7"/>
<stop offset="0.7870" stop-color="#0000d7"/>
</linearGradient>
<linearGradient id="g301" x1="0" y1="330" x2="0" y2="2642" gradientUnits="userSpaceOnUse">
<stop offset="0.1036" stop-color="#0000e7"/>
<stop offset="0.3112" stop-color="#0000e7"/>
<stop offset="0.5491" stop-color="#0000df"/>
<stop offset="0.7870" stop-color="#0000df"/>
</linearGradient>
<linearGradient id="g302" x1="0" y1="330" x2="0" y2="2642" gradientUnits="userSpaceOnUse">
<stop offset="0.1036" stop-color="#0000cf"/>
<stop offset="0.3112" stop-color="#0000e7"/>
<stop offset="0.5491" stop-color="#0000df"/>
<stop offset="0.7870" stop-color="#0000df"/>
</linearGradient>
<linearGradient id="g303" x1="0" y1="330" x2="0" y2="2642" gradientUnits="userSpaceOnUse">
<stop offset="0.1036" stop-color="#0000cf"/>
<stop offset="0.3112" stop-color="#0000cf"/>
<stop offset="0.5491" stop-color="#0000df"/>
<stop offset="0.7870" stop-color="#0000df"/>
</linearGradient>
<filter id="blur" x="399" y="290" width="3600" height="2392" filterUnits="userSpaceOnUse"><feGaussianBlur stdDeviation="5 0"/></filter>
<clipPath id="fclip"><rect x="439.5" y="330.5" width="3520.0" height="2312.0"/></clipPath>
</defs>
<g clip-path="url(#fclip)"><g filter="url(#blur)">
<rect x="410.0" y="300" width="39.0" height="2372" fill="url(#g0)"/>
<rect x="449.0" y="300" width="10.0" height="2372" fill="url(#g1)"/>
<rect x="459.0" y="300" width="20.0" height="2372" fill="url(#g2)"/>
<rect x="479.0" y="300" width="11.0" height="2372" fill="url(#g3)"/>
<rect x="490.0" y="300" width="5.0" height="2372" fill="url(#g4)"/>
<rect x="495.0" y="300" width="3.0" height="2372" fill="url(#g5)"/>
<rect x="498.0" y="300" width="2.0" height="2372" fill="url(#g6)"/>
<rect x="500.0" y="300" width="8.0" height="2372" fill="url(#g7)"/>
<rect x="508.0" y="300" width="2.0" height="2372" fill="url(#g8)"/>
<rect x="510.0" y="300" width="10.0" height="2372" fill="url(#g9)"/>
<rect x="520.0" y="300" width="1.0" height="2372" fill="url(#g10)"/>
<rect x="521.0" y="300" width="3.0" height="2372" fill="url(#g11)"/>
<rect x="524.0" y="300" width="11.0" height="2372" fill="url(#g12)"/>
<rect x="535.0" y="300" width="3.0" height="2372" fill="url(#g13)"/>
<rect x="538.0" y="300" width="3.0" height="2372" fill="url(#g14)"/>
<rect x="541.0" y="300" width="38.0" height="2372" fill="url(#g15)"/>
<rect x="579.0" y="300" width="4.0" height="2372" fill="url(#g16)"/>
<rect x="583.0" y="300" width="4.0" height="2372" fill="url(#g17)"/>
<rect x="587.0" y="300" width="12.0" height="2372" fill="url(#g18)"/>
<rect x="599.0" y="300" width="16.0" height="2372" fill="url(#g19)"/>
<rect x="615.0" y="300" width="10.0" height="2372" fill="url(#g20)"/>
<rect x="625.0" y="300" width="1.0" height="2372" fill="url(#g21)"/>
<rect x="626.0" y="300" width="9.0" height="2372" fill="url(#g22)"/>
<rect x="635.0" y="300" width="3.0" height="2372" fill="url(#g23)"/>
<rect x="638.0" y="300" width="5.0" height="2372" fill="url(#g24)"/>
<rect x="643.0" y="300" width="12.0" height="2372" fill="url(#g25)"/>
<rect x="655.0" y="300" width="4.0" height="2372" fill="url(#g26)"/>
<rect x="659.0" y="300" width="4.0" height="2372" fill="url(#g27)"/>
<rect x="663.0" y="300" width="2.0" height="2372" fill="url(#g28)"/>
<rect x="665.0" y="300" width="2.0" height="2372" fill="url(#g29)"/>
<rect x="667.0" y="300" width="12.0" height="2372" fill="url(#g30)"/>
<rect x="679.0" y="300" width="39.0" height="2372" fill="url(#g31)"/>
<rect x="718.0" y="300" width="32.0" height="2372" fill="url(#g32)"/>
<rect x="750.0" y="300" width="7.0" height="2372" fill="url(#g33)"/>
<rect x="757.0" y="300" width="5.0" height="2372" fill="url(#g34)"/>
<rect x="762.0" y="300" width="5.0" height="2372" fill="url(#g35)"/>
<rect x="767.0" y="300" width="20.0" height="2372" fill="url(#g36)"/>
<rect x="787.0" y="300" width="3.0" height="2372" fill="url(#g37)"/>
<rect x="790.0" y="300" width="4.0" height="2372" fill="url(#g38)"/>
<rect x="794.0" y="300" width="12.0" height="2372" fill="url(#g39)"/>
<rect x="806.0" y="300" width="8.0" height="2372" fill="url(#g40)"/>
<rect x="814.0" y="300" width="8.0" height="2372" fill="url(#g41)"/>
<rect x="822.0" y="300" width="1.0" height="2372" fill="url(#g42)"/>
<rect x="823.0" y="300" width="11.0" height="2372" fill="url(#g43)"/>
<rect x="834.0" y="300" width="81.0" height="2372" fill="url(#g44)"/>
<rect x="915.0" y="300" width="8.0" height="2372" fill="url(#g45)"/>
<rect x="923.0" y="300" width="15.0" height="2372" fill="url(#g46)"/>
<rect x="938.0" y="300" width="20.0" height="2372" fill="url(#g47)"/>
<rect x="958.0" y="300" width="11.0" height="2372" fill="url(#g48)"/>
<rect x="969.0" y="300" width="11.0" height="2372" fill="url(#g49)"/>
<rect x="980.0" y="300" width="33.0" height="2372" fill="url(#g50)"/>
<rect x="1013.0" y="300" width="4.0" height="2372" fill="url(#g51)"/>
<rect x="1017.0" y="300" width="3.0" height="2372" fill="url(#g52)"/>
<rect x="1020.0" y="300" width="7.0" height="2372" fill="url(#g53)"/>
<rect x="1027.0" y="300" width="2.0" height="2372" fill="url(#g54)"/>
<rect x="1029.0" y="300" width="28.0" height="2372" fill="url(#g55)"/>
<rect x="1057.0" y="300" width="35.0" height="2372" fill="url(#g56)"/>
<rect x="1092.0" y="300" width="4.0" height="2372" fill="url(#g57)"/>
<rect x="1096.0" y="300" width="34.0" height="2372" fill="url(#g58)"/>
<rect x="1130.0" y="300" width="2.0" height="2372" fill="url(#g59)"/>
<rect x="1132.0" y="300" width="4.0" height="2372" fill="url(#g60)"/>
<rect x="1136.0" y="300" width="8.0" height="2372" fill="url(#g61)"/>
<rect x="1144.0" y="300" width="8.0" height="2372" fill="url(#g62)"/>
<rect x="1152.0" y="300" width="32.0" height="2372" fill="url(#g63)"/>
<rect x="1184.0" y="300" width="8.0" height="2372" fill="url(#g64)"/>
<rect x="1192.0" y="300" width="4.0" height="2372" fill="url(#g65)"/>
<rect x="1196.0" y="300" width="6.0" height="2372" fill="url(#g66)"/>
<rect x="1202.0" y="300" width="10.0" height="2372" fill="url(#g67)"/>
<rect x="1212.0" y="300" width="12.0" height="2372" fill="url(#g68)"/>
<rect x="1224.0" y="300" width="12.0" height="2372" fill="url(#g69)"/>
<rect x="1236.0" y="300" width="4.0" height="2372" fill="url(#g70)"/>
<rect x="1240.0" y="300" width="13.0" height="2372" fill="url(#g71)"/>
<rect x="1253.0" y="300" width="46.0" height="2372" fill="url(#g72)"/>
<rect x="1299.0" y="300" width="21.0" height="2372" fill="url(#g73)"/>
<rect x="1320.0" y="300" width="18.0" height="2372" fill="url(#g74)"/>
<rect x="1338.0" y="300" width="20.0" height="2372" fill="url(#g75)"/>
<rect x="1358.0" y="300" width="18.0" height="2372" fill="url(#g76)"/>
<rect x="1376.0" y="300" width="2.0" height="2372" fill="url(#g77)"/>
<rect x="1378.0" y="300" width="2.0" height="2372" fill="url(#g78)"/>
<rect x="1380.0" y="300" width="30.0" height="2372" fill="url(#g79)"/>
<rect x="1410.0" y="300" width="7.0" height="2372" fill="url(#g80)"/>
<rect x="1417.0" y="300" width="5.0" height="2372" fill="url(#g81)"/>
<rect x="1422.0" y="300" width="5.0" height="2372" fill="url(#g82)"/>
<rect x="1427.0" y="300" width="6.0" height="2372" fill="url(#g83)"/>
<rect x="1433.0" y="300" width="23.0" height="2372" fill="url(#g84)"/>
<rect x="1456.0" y="300" width="1.0" height="2372" fill="url(#g85)"/>
<rect x="1457.0" y="300" width="4.0" height="2372" fill="url(#g86)"/>
<rect x="1461.0" y="300" width="22.0" height="2372" fill="url(#g87)"/>
<rect x="1483.0" y="300" width="2.0" height="2372" fill="url(#g88)"/>
<rect x="1485.0" y="300" width="12.0" height="2372" fill="url(#g89)"/>
<rect x="1497.0" y="300" width="1.0" height="2372" fill="url(#g90)"/>
<rect x="1498.0" y="300" width="1.0" height="2372" fill="url(#g91)"/>
<rect x="1499.0" y="300" width="20.0" height="2372" fill="url(#g92)"/>
<rect x="1519.0" y="300" width="6.0" height="2372" fill="url(#g93)"/>
<rect x="1525.0" y="300" width="10.0" height="2372" fill="url(#g94)"/>
<rect x="1535.0" y="300" width="4.0" height="2372" fill="url(#g95)"/>
<rect x="1539.0" y="300" width="10.0" height="2372" fill="url(#g96)"/>
<rect x="1549.0" y="300" width="4.0" height="2372" fill="url(#g97)"/>
<rect x="1553.0" y="300" width="10.0" height="2372" fill="url(#g98)"/>
<rect x="1563.0" y="300" width="6.0" height="2372" fill="url(#g99)"/>
<rect x="1569.0" y="300" width="10.0" height="2372" fill="url(#g100)"/>
<rect x="1579.0" y="300" width="4.0" height="2372" fill="url(#g101)"/>
<rect x="1583.0" y="300" width="6.0" height="2372" fill="url(#g102)"/>
<rect x="1589.0" y="300" width="2.0" height="2372" fill="url(#g103)"/>
<rect x="1591.0" y="300" width="23.0" height="2372" fill="url(#g104)"/>
<rect x="1614.0" y="300" width="24.0" height="2372" fill="url(#g105)"/>
<rect x="1638.0" y="300" width="40.0" height="2372" fill="url(#g106)"/>
<rect x="1678.0" y="300" width="8.0" height="2372" fill="url(#g107)"/>
<rect x="1686.0" y="300" width="4.0" height="2372" fill="url(#g108)"/>
<rect x="1690.0" y="300" width="8.0" height="2372" fill="url(#g109)"/>
<rect x="1698.0" y="300" width="3.0" height="2372" fill="url(#g110)"/>
<rect x="1701.0" y="300" width="13.0" height="2372" fill="url(#g111)"/>
<rect x="1714.0" y="300" width="6.0" height="2372" fill="url(#g112)"/>
<rect x="1720.0" y="300" width="6.0" height="2372" fill="url(#g113)"/>
<rect x="1726.0" y="300" width="12.0" height="2372" fill="url(#g114)"/>
<rect x="1738.0" y="300" width="7.0" height="2372" fill="url(#g115)"/>
<rect x="1745.0" y="300" width="5.0" height="2372" fill="url(#g116)"/>
<rect x="1750.0" y="300" width="8.0" height="2372" fill="url(#g117)"/>
<rect x="1758.0" y="300" width="4.0" height="2372" fill="url(#g118)"/>
<rect x="1762.0" y="300" width="10.0" height="2372" fill="url(#g119)"/>
<rect x="1772.0" y="300" width="9.0" height="2372" fill="url(#g120)"/>
<rect x="1781.0" y="300" width="14.0" height="2372" fill="url(#g121)"/>
<rect x="1795.0" y="300" width="8.0" height="2372" fill="url(#g122)"/>
<rect x="1803.0" y="300" width="6.0" height="2372" fill="url(#g123)"/>
<rect x="1809.0" y="300" width="12.0" height="2372" fill="url(#g124)"/>
<rect x="1821.0" y="300" width="9.0" height="2372" fill="url(#g125)"/>
<rect x="1830.0" y="300" width="3.0" height="2372" fill="url(#g126)"/>
<rect x="1833.0" y="300" width="17.0" height="2372" fill="url(#g127)"/>
<rect x="1850.0" y="300" width="5.0" height="2372" fill="url(#g128)"/>
<rect x="1855.0" y="300" width="14.0" height="2372" fill="url(#g129)"/>
<rect x="1869.0" y="300" width="4.0" height="2372" fill="url(#g130)"/>
<rect x="1873.0" y="300" width="20.0" height="2372" fill="url(#g131)"/>
<rect x="1893.0" y="300" width="16.0" height="2372" fill="url(#g132)"/>
<rect x="1909.0" y="300" width="10.0" height="2372" fill="url(#g133)"/>
<rect x="1919.0" y="300" width="6.0" height="2372" fill="url(#g134)"/>
<rect x="1925.0" y="300" width="5.0" height="2372" fill="url(#g135)"/>
<rect x="1930.0" y="300" width="9.0" height="2372" fill="url(#g136)"/>
<rect x="1939.0" y="300" width="2.0" height="2372" fill="url(#g137)"/>
<rect x="1941.0" y="300" width="6.0" height="2372" fill="url(#g138)"/>
<rect x="1947.0" y="300" width="20.0" height="2372" fill="url(#g139)"/>
<rect x="1967.0" y="300" width="5.0" height="2372" fill="url(#g140)"/>
<rect x="1972.0" y="300" width="10.0" height="2372" fill="url(#g141)"/>
<rect x="1982.0" y="300" width="36.0" height="2372" fill="url(#g142)"/>
<rect x="2018.0" y="300" width="6.0" height="2372" fill="url(#g143)"/>
<rect x="2024.0" y="300" width="12.0" height="2372" fill="url(#g144)"/>
<rect x="2036.0" y="300" width="2.0" height="2372" fill="url(#g145)"/>
<rect x="2038.0" y="300" width="10.0" height="2372" fill="url(#g146)"/>
<rect x="2048.0" y="300" width="4.0" height="2372" fill="url(#g147)"/>
<rect x="2052.0" y="300" width="8.0" height="2372" fill="url(#g148)"/>
<rect x="2060.0" y="300" width="32.0" height="2372" fill="url(#g149)"/>
<rect x="2092.0" y="300" width="8.0" height="2372" fill="url(#g150)"/>
<rect x="2100.0" y="300" width="1.0" height="2372" fill="url(#g151)"/>
<rect x="2101.0" y="300" width="11.0" height="2372" fill="url(#g152)"/>
<rect x="2112.0" y="300" width="8.0" height="2372" fill="url(#g153)"/>
<rect x="2120.0" y="300" width="33.0" height="2372" fill="url(#g154)"/>
<rect x="2153.0" y="300" width="12.0" height="2372" fill="url(#g155)"/>
<rect x="2165.0" y="300" width="2.0" height="2372" fill="url(#g156)"/>
<rect x="2167.0" y="300" width="8.0" height="2372" fill="url(#g157)"/>
<rect x="2175.0" y="300" width="29.0" height="2372" fill="url(#g158)"/>
<rect x="2204.0" y="300" width="6.0" height="2372" fill="url(#g159)"/>
<rect x="2210.0" y="300" width="6.0" height="2372" fill="url(#g160)"/>
<rect x="2216.0" y="300" width="4.0" height="2372" fill="url(#g161)"/>
<rect x="2220.0" y="300" width="4.0" height="2372" fill="url(#g162)"/>
<rect x="2224.0" y="300" width="9.0" height="2372" fill="url(#g163)"/>
<rect x="2233.0" y="300" width="9.0" height="2372" fill="url(#g164)"/>
<rect x="2242.0" y="300" width="8.0" height="2372" fill="url(#g165)"/>
<rect x="2250.0" y="300" width="8.0" height="2372" fill="url(#g166)"/>
<rect x="2258.0" y="300" width="19.0" height="2372" fill="url(#g167)"/>
<rect x="2277.0" y="300" width="36.0" height="2372" fill="url(#g168)"/>
<rect x="2313.0" y="300" width="4.0" height="2372" fill="url(#g169)"/>
<rect x="2317.0" y="300" width="7.0" height="2372" fill="url(#g170)"/>
<rect x="2324.0" y="300" width="7.0" height="2372" fill="url(#g171)"/>
<rect x="2331.0" y="300" width="27.0" height="2372" fill="url(#g172)"/>
<rect x="2358.0" y="300" width="5.0" height="2372" fill="url(#g173)"/>
<rect x="2363.0" y="300" width="17.0" height="2372" fill="url(#g174)"/>
<rect x="2380.0" y="300" width="7.0" height="2372" fill="url(#g175)"/>
<rect x="2387.0" y="300" width="12.0" height="2372" fill="url(#g176)"/>
<rect x="2399.0" y="300" width="8.0" height="2372" fill="url(#g177)"/>
<rect x="2407.0" y="300" width="7.0" height="2372" fill="url(#g178)"/>
<rect x="2414.0" y="300" width="21.0" height="2372" fill="url(#g179)"/>
<rect x="2435.0" y="300" width="12.0" height="2372" fill="url(#g180)"/>
<rect x="2447.0" y="300" width="4.0" height="2372" fill="url(#g181)"/>
<rect x="2451.0" y="300" width="8.0" height="2372" fill="url(#g182)"/>
<rect x="2459.0" y="300" width="23.0" height="2372" fill="url(#g183)"/>
<rect x="2482.0" y="300" width="3.0" height="2372" fill="url(#g184)"/>
<rect x="2485.0" y="300" width="5.0" height="2372" fill="url(#g185)"/>
<rect x="2490.0" y="300" width="7.0" height="2372" fill="url(#g186)"/>
<rect x="2497.0" y="300" width="9.0" height="2372" fill="url(#g187)"/>
<rect x="2506.0" y="300" width="16.0" height="2372" fill="url(#g188)"/>
<rect x="2522.0" y="300" width="19.0" height="2372" fill="url(#g189)"/>
<rect x="2541.0" y="300" width="13.0" height="2372" fill="url(#g190)"/>
<rect x="2554.0" y="300" width="4.0" height="2372" fill="url(#g191)"/>
<rect x="2558.0" y="300" width="15.0" height="2372" fill="url(#g192)"/>
<rect x="2573.0" y="300" width="9.0" height="2372" fill="url(#g193)"/>
<rect x="2582.0" y="300" width="12.0" height="2372" fill="url(#g194)"/>
<rect x="2594.0" y="300" width="6.0" height="2372" fill="url(#g195)"/>
<rect x="2600.0" y="300" width="8.0" height="2372" fill="url(#g196)"/>
<rect x="2608.0" y="300" width="9.0" height="2372" fill="url(#g197)"/>
<rect x="2617.0" y="300" width="5.0" height="2372" fill="url(#g198)"/>
<rect x="2622.0" y="300" width="34.0" height="2372" fill="url(#g199)"/>
<rect x="2656.0" y="300" width="41.0" height="2372" fill="url(#g200)"/>
<rect x="2697.0" y="300" width="20.0" height="2372" fill="url(#g201)"/>
<rect x="2717.0" y="300" width="8.0" height="2372" fill="url(#g202)"/>
<rect x="2725.0" y="300" width="8.0" height="2372" fill="url(#g203)"/>
<rect x="2733.0" y="300" width="9.0" height="2372" fill="url(#g204)"/>
<rect x="2742.0" y="300" width="17.0" height="2372" fill="url(#g205)"/>
<rect x="2759.0" y="300" width="6.0" height="2372" fill="url(#g206)"/>
<rect x="2765.0" y="300" width="16.0" height="2372" fill="url(#g207)"/>
<rect x="2781.0" y="300" width="12.0" height="2372" fill="url(#g208)"/>
<rect x="2793.0" y="300" width="7.0" height="2372" fill="url(#g209)"/>
<rect x="2800.0" y="300" width="5.0" height="2372" fill="url(#g210)"/>
<rect x="2805.0" y="300" width="15.0" height="2372" fill="url(#g211)"/>
<rect x="2820.0" y="300" width="5.0" height="2372" fill="url(#g212)"/>
<rect x="2825.0" y="300" width="7.0" height="2372" fill="url(#g213)"/>
<rect x="2832.0" y="300" width="5.0" height="2372" fill="url(#g214)"/>
<rect x="2837.0" y="300" width="24.0" height="2372" fill="url(#g215)"/>
<rect x="2861.0" y="300" width="7.0" height="2372" fill="url(#g216)"/>
<rect x="2868.0" y="300" width="8.0" height="2372" fill="url(#g217)"/>
<rect x="2876.0" y="300" width="24.0" height="2372" fill="url(#g218)"/>
<rect x="2900.0" y="300" width="8.0" height="2372" fill="url(#g219)"/>
<rect x="2908.0" y="300" width="2.0" height="2372" fill="url(#g220)"/>
<rect x="2910.0" y="300" width="12.0" height="2372" fill="url(#g221)"/>
<rect x="2922.0" y="300" width="18.0" height="2372" fill="url(#g222)"/>
<rect x="2940.0" y="300" width="4.0" height="2372" fill="url(#g223)"/>
<rect x="2944.0" y="300" width="12.0" height="2372" fill="url(#g224)"/>
<rect x="2956.0" y="300" width="15.0" height="2372" fill="url(#g225)"/>
<rect x="2971.0" y="300" width="9.0" height="2372" fill="url(#g226)"/>
<rect x="2980.0" y="300" width="6.0" height="2372" fill="url(#g227)"/>
<rect x="2986.0" y="300" width="18.0" height="2372" fill="url(#g228)"/>
<rect x="3004.0" y="300" width="8.0" height="2372" fill="url(#g229)"/>
<rect x="3012.0" y="300" width="1.0" height="2372" fill="url(#g230)"/>
<rect x="3013.0" y="300" width="12.0" height="2372" fill="url(#g231)"/>
<rect x="3025.0" y="300" width="2.0" height="2372" fill="url(#g232)"/>
<rect x="3027.0" y="300" width="25.0" height="2372" fill="url(#g233)"/>
<rect x="3052.0" y="300" width="28.0" height="2372" fill="url(#g234)"/>
<rect x="3080.0" y="300" width="8.0" height="2372" fill="url(#g235)"/>
<rect x="3088.0" y="300" width="4.0" height="2372" fill="url(#g236)"/>
<rect x="3092.0" y="300" width="12.0" height="2372" fill="url(#g237)"/>
<rect x="3104.0" y="300" width="5.0" height="2372" fill="url(#g238)"/>
<rect x="3109.0" y="300" width="7.0" height="2372" fill="url(#g239)"/>
<rect x="3116.0" y="300" width="4.0" height="2372" fill="url(#g240)"/>
<rect x="3120.0" y="300" width="11.0" height="2372" fill="url(#g241)"/>
<rect x="3131.0" y="300" width="9.0" height="2372" fill="url(#g242)"/>
<rect x="3140.0" y="300" width="16.0" height="2372" fill="url(#g243)"/>
<rect x="3156.0" y="300" width="15.0" height="2372" fill="url(#g244)"/>
<rect x="3171.0" y="300" width="4.0" height="2372" fill="url(#g245)"/>
<rect x="3175.0" y="300" width="8.0" height="2372" fill="url(#g246)"/>
<rect x="3183.0" y="300" width="4.0" height="2372" fill="url(#g247)"/>
<rect x="3187.0" y="300" width="13.0" height="2372" fill="url(#g248)"/>
<rect x="3200.0" y="300" width="11.0" height="2372" fill="url(#g249)"/>
<rect x="3211.0" y="300" width="6.0" height="2372" fill="url(#g250)"/>
<rect x="3217.0" y="300" width="44.0" height="2372" fill="url(#g251)"/>
<rect x="3261.0" y="300" width="6.0" height="2372" fill="url(#g252)"/>
<rect x="3267.0" y="300" width="8.0" height="2372" fill="url(#g253)"/>
<rect x="3275.0" y="300" width="28.0" height="2372" fill="url(#g254)"/>
<rect x="3303.0" y="300" width="9.0" height="2372" fill="url(#g255)"/>
<rect x="3312.0" y="300" width="7.0" height="2372" fill="url(#g256)"/>
<rect x="3319.0" y="300" width="5.0" height="2372" fill="url(#g257)"/>
<rect x="3324.0" y="300" width="11.0" height="2372" fill="url(#g258)"/>
<rect x="3335.0" y="300" width="11.0" height="2372" fill="url(#g259)"/>
<rect x="3346.0" y="300" width="10.0" height="2372" fill="url(#g260)"/>
<rect x="3356.0" y="300" width="2.0" height="2372" fill="url(#g261)"/>
<rect x="3358.0" y="300" width="22.0" height="2372" fill="url(#g262)"/>
<rect x="3380.0" y="300" width="17.0" height="2372" fill="url(#g263)"/>
<rect x="3397.0" y="300" width="1.0" height="2372" fill="url(#g264)"/>
<rect x="3398.0" y="300" width="8.0" height="2372" fill="url(#g265)"/>
<rect x="3406.0" y="300" width="4.0" height="2372" fill="url(#g266)"/>
<rect x="3410.0" y="300" width="4.0" height="2372" fill="url(#g267)"/>
<rect x="3414.0" y="300" width="12.0" height="2372" fill="url(#g268)"/>
<rect x="3426.0" y="300" width="1.0" height="2372" fill="url(#g269)"/>
<rect x="3427.0" y="300" width="31.0" height="2372" fill="url(#g270)"/>
<rect x="3458.0" y="300" width="3.0" height="2372" fill="url(#g271)"/>
<rect x="3461.0" y="300" width="1.0" height="2372" fill="url(#g272)"/>
<rect x="3462.0" y="300" width="11.0" height="2372" fill="url(#g273)"/>
<rect x="3473.0" y="300" width="5.0" height="2372" fill="url(#g274)"/>
<rect x="3478.0" y="300" width="56.0" height="2372" fill="url(#g275)"/>
<rect x="3534.0" y="300" width="3.0" height="2372" fill="url(#g276)"/>
<rect x="3537.0" y="300" width="12.0" height="2372" fill="url(#g277)"/>
<rect x="3549.0" y="300" width="39.0" height="2372" fill="url(#g278)"/>
<rect x="3588.0" y="300" width="1.0" height="2372" fill="url(#g279)"/>
<rect x="3589.0" y="300" width="8.0" height="2372" fill="url(#g280)"/>
<rect x="3597.0" y="300" width="4.0" height="2372" fill="url(#g281)"/>
<rect x="3601.0" y="300" width="14.0" height="2372" fill="url(#g282)"/>
<rect x="3615.0" y="300" width="6.0" height="2372" fill="url(#g283)"/>
<rect x="3621.0" y="300" width="39.0" height="2372" fill="url(#g284)"/>
<rect x="3660.0" y="300" width="13.0" height="2372" fill="url(#g285)"/>
<rect x="3673.0" y="300" width="17.0" height="2372" fill="url(#g286)"/>
<rect x="3690.0" y="300" width="9.0" height="2372" fill="url(#g287)"/>
<rect x="3699.0" y="300" width="2.0" height="2372" fill="url(#g288)"/>
<rect x="3701.0" y="300" width="35.0" height="2372" fill="url(#g289)"/>
<rect x="3736.0" y="300" width="12.0" height="2372" fill="url(#g290)"/>
<rect x="3748.0" y="300" width="8.0" height="2372" fill="url(#g291)"/>
<rect x="3756.0" y="300" width="15.0" height="2372" fill="url(#g292)"/>
<rect x="3771.0" y="300" width="23.0" height="2372" fill="url(#g293)"/>
<rect x="3794.0" y="300" width="6.0" height="2372" fill="url(#g294)"/>
<rect x="3800.0" y="300" width="8.0" height="2372" fill="url(#g295)"/>
<rect x="3808.0" y="300" width="4.0" height="2372" fill="url(#g296)"/>
<rect x="3812.0" y="300" width="16.0" height="2372" fill="url(#g297)"/>
<rect x="3828.0" y="300" width="28.0" height="2372" fill="url(#g298)"/>
<rect x="3856.0" y="300" width="40.0" height="2372" fill="url(#g299)"/>
<rect x="3896.0" y="300" width="35.0" height="2372" fill="url(#g300)"/>
<rect x="3931.0" y="300" width="8.0" height="2372" fill="url(#g301)"/>
<rect x="3939.0" y="300" width="3.0" height="2372" fill="url(#g302)"/>
<rect x="3942.0" y="300" width="47.5" height="2372" fill="url(#g303)"/>
</g></g>
<rect x="440.0" y="330" width="19.0" height="136.5" fill="#fff"/>
<rect x="459.0" y="330" width="58.0" height="35.5" fill="#fff"/>
<rect x="517.0" y="330" width="36.0" height="53.5" fill="#fff"/>
<rect x="553.0" y="330" width="132.0" height="34.5" fill="#fff"/>
<rect x="685.0" y="330" width="57.0" height="156.5" fill="#fff"/>
<rect x="742.0" y="330" width="19.0" height="129.5" fill="#fff"/>
<rect x="761.0" y="330" width="38.0" height="63.5" fill="#fff"/>
<rect x="799.0" y="330" width="57.0" height="36.5" fill="#fff"/>
<rect x="856.0" y="330" width="38.0" height="49.5" fill="#fff"/>
<rect x="894.0" y="330" width="19.0" height="34.5" fill="#fff"/>
<rect x="913.0" y="330" width="37.0" height="157.5" fill="#fff"/>
<rect x="950.0" y="330" width="76.5" height="34.5" fill="#fff"/>
<rect x="1026.5" y="330" width="19.1" height="106.5" fill="#fff"/>
<rect x="1045.6" y="330" width="56.4" height="137.0" fill="#fff"/>
<rect x="1102.0" y="330" width="37.0" height="157.5" fill="#fff"/>
<rect x="1139.0" y="330" width="19.0" height="106.5" fill="#fff"/>
<rect x="1158.0" y="330" width="20.0" height="85.5" fill="#fff"/>
<rect x="1178.0" y="330" width="38.5" height="34.5" fill="#fff"/>
<rect x="1216.5" y="330" width="37.5" height="84.5" fill="#fff"/>
<rect x="1254.0" y="330" width="76.0" height="31.5" fill="#fff"/>
<rect x="1330.0" y="330" width="76.0" height="34.5" fill="#fff"/>
<rect x="1406.0" y="330" width="36.0" height="157.5" fill="#fff"/>
<rect x="1442.0" y="330" width="19.0" height="131.5" fill="#fff"/>
<rect x="1461.0" y="330" width="21.6" height="36.5" fill="#fff"/>
<rect x="1482.6" y="330" width="35.4" height="39.5" fill="#fff"/>
<rect x="1518.0" y="330" width="38.0" height="152.5" fill="#fff"/>
<rect x="1556.0" y="330" width="37.6" height="49.5" fill="#fff"/>
<rect x="1593.6" y="330" width="76.1" height="36.5" fill="#fff"/>
<rect x="1669.7" y="330" width="37.3" height="67.5" fill="#fff"/>
<rect x="1707.0" y="330" width="19.7" height="34.5" fill="#fff"/>
<rect x="1726.7" y="330" width="19.1" height="108.5" fill="#fff"/>
<rect x="1745.8" y="330" width="18.7" height="119.5" fill="#fff"/>
<rect x="1764.5" y="330" width="37.5" height="137.0" fill="#fff"/>
<rect x="1802.0" y="330" width="39.0" height="694.5" fill="#fff"/>
<rect x="1841.0" y="330" width="36.6" height="152.5" fill="#fff"/>
<rect x="1877.6" y="330" width="38.4" height="149.5" fill="#fff"/>
<rect x="1916.0" y="330" width="36.5" height="126.5" fill="#fff"/>
<rect x="1952.5" y="330" width="19.5" height="116.5" fill="#fff"/>
<rect x="1972.0" y="330" width="19.0" height="39.5" fill="#fff"/>
<rect x="1991.0" y="330" width="39.0" height="89.5" fill="#fff"/>
<rect x="2030.0" y="330" width="57.0" height="158.5" fill="#fff"/>
<rect x="2087.0" y="330" width="19.0" height="47.5" fill="#fff"/>
<rect x="2106.0" y="330" width="18.6" height="54.5" fill="#fff"/>
<rect x="2124.6" y="330" width="19.9" height="64.5" fill="#fff"/>
<rect x="2144.5" y="330" width="37.1" height="100.5" fill="#fff"/>
<rect x="2181.6" y="330" width="19.1" height="36.5" fill="#fff"/>
<rect x="2200.7" y="330" width="19.3" height="54.5" fill="#fff"/>
<rect x="2220.0" y="330" width="10.0" height="97.5" fill="#fff"/>
<rect x="2230.0" y="330" width="26.4" height="98.5" fill="#fff"/>
<rect x="2256.4" y="330" width="38.6" height="303.5" fill="#fff"/>
<rect x="2295.0" y="330" width="18.4" height="149.5" fill="#fff"/>
<rect x="2313.4" y="330" width="37.6" height="157.5" fill="#fff"/>
<rect x="2351.0" y="330" width="94.6" height="35.5" fill="#fff"/>
<rect x="2445.6" y="330" width="37.4" height="118.5" fill="#fff"/>
<rect x="2483.0" y="330" width="58.0" height="35.5" fill="#fff"/>
<rect x="2541.0" y="330" width="18.6" height="74.5" fill="#fff"/>
<rect x="2559.6" y="330" width="37.8" height="141.5" fill="#fff"/>
<rect x="2597.4" y="330" width="37.4" height="116.5" fill="#fff"/>
<rect x="2634.8" y="330" width="19.2" height="34.5" fill="#fff"/>
<rect x="2654.0" y="330" width="38.6" height="69.5" fill="#fff"/>
<rect x="2692.6" y="330" width="37.0" height="90.5" fill="#fff"/>
<rect x="2729.6" y="330" width="19.2" height="35.5" fill="#fff"/>
<rect x="2748.8" y="330" width="19.2" height="54.5" fill="#fff"/>
<rect x="2768.0" y="330" width="19.4" height="80.5" fill="#fff"/>
<rect x="2787.4" y="330" width="37.6" height="139.5" fill="#fff"/>
<rect x="2825.0" y="330" width="18.0" height="118.5" fill="#fff"/>
<rect x="2843.0" y="330" width="20.5" height="34.5" fill="#fff"/>
<rect x="2863.5" y="330" width="35.5" height="67.5" fill="#fff"/>
<rect x="2899.0" y="330" width="39.0" height="38.5" fill="#fff"/>
<rect x="2938.0" y="330" width="37.8" height="90.5" fill="#fff"/>
<rect x="2975.8" y="330" width="56.2" height="36.5" fill="#fff"/>
<rect x="3032.0" y="330" width="37.0" height="105.5" fill="#fff"/>
<rect x="3069.0" y="330" width="40.0" height="39.5" fill="#fff"/>
<rect x="3109.0" y="330" width="18.7" height="31.5" fill="#fff"/>
<rect x="3127.7" y="330" width="37.3" height="139.5" fill="#fff"/>
<rect x="3165.0" y="330" width="38.0" height="34.5" fill="#fff"/>
<rect x="3203.0" y="330" width="37.4" height="84.5" fill="#fff"/>
<rect x="3240.4" y="330" width="37.4" height="157.0" fill="#fff"/>
<rect x="3277.8" y="330" width="19.5" height="32.5" fill="#fff"/>
<rect x="3297.3" y="330" width="57.0" height="86.5" fill="#fff"/>
<rect x="3354.3" y="330" width="76.5" height="35.5" fill="#fff"/>
<rect x="3430.8" y="330" width="17.9" height="67.5" fill="#fff"/>
<rect x="3448.7" y="330" width="37.0" height="136.5" fill="#fff"/>
<rect x="3485.7" y="330" width="76.1" height="36.5" fill="#fff"/>
<rect x="3561.8" y="330" width="38.7" height="30.0" fill="#fff"/>
<rect x="3600.5" y="330" width="20.1" height="1591.0" fill="#fff"/>
<rect x="3620.6" y="330" width="39.4" height="1765.2" fill="#fff"/>
<rect x="3660.0" y="330" width="53.0" height="34.5" fill="#fff"/>
<rect x="3713.0" y="330" width="20.5" height="39.5" fill="#fff"/>
<rect x="3733.5" y="330" width="37.0" height="46.5" fill="#fff"/>
<rect x="3770.5" y="330" width="37.5" height="125.5" fill="#fff"/>
<rect x="3808.0" y="330" width="19.5" height="36.5" fill="#fff"/>
<rect x="3827.5" y="330" width="94.5" height="156.5" fill="#fff"/>
<rect x="3922.0" y="330" width="19.4" height="89.5" fill="#fff"/>
<rect x="3941.4" y="330" width="17.6" height="133.5" fill="#fff"/>
<rect x="440.0" y="2492.0" width="39.0" height="150.5" fill="#fff"/>
<rect x="479.0" y="2433.0" width="37.0" height="209.5" fill="#fff"/>
<rect x="516.0" y="2523.0" width="37.0" height="119.5" fill="#fff"/>
<rect x="553.0" y="2533.0" width="19.0" height="109.5" fill="#fff"/>
<rect x="572.0" y="2524.0" width="76.5" height="118.5" fill="#fff"/>
<rect x="648.5" y="2538.0" width="94.0" height="104.5" fill="#fff"/>
<rect x="742.5" y="2381.7" width="37.5" height="260.8" fill="#fff"/>
<rect x="780.0" y="2538.0" width="38.6" height="104.5" fill="#fff"/>
<rect x="818.6" y="2533.4" width="93.4" height="109.1" fill="#fff"/>
<rect x="912.0" y="2535.5" width="39.0" height="107.0" fill="#fff"/>
<rect x="951.0" y="2524.5" width="56.0" height="118.0" fill="#fff"/>
<rect x="1007.0" y="2536.7" width="56.5" height="105.8" fill="#fff"/>
<rect x="1063.5" y="2412.0" width="37.5" height="230.5" fill="#fff"/>
<rect x="1101.0" y="2525.0" width="19.5" height="117.5" fill="#fff"/>
<rect x="1120.5" y="2350.0" width="37.5" height="292.5" fill="#fff"/>
<rect x="1158.0" y="2536.0" width="20.6" height="106.5" fill="#fff"/>
<rect x="1178.6" y="2514.0" width="57.0" height="128.5" fill="#fff"/>
<rect x="1235.6" y="2511.0" width="94.4" height="131.5" fill="#fff"/>
<rect x="1330.0" y="2513.0" width="37.4" height="129.5" fill="#fff"/>
<rect x="1367.4" y="2533.4" width="93.6" height="109.1" fill="#fff"/>
<rect x="1461.0" y="2513.0" width="57.0" height="129.5" fill="#fff"/>
<rect x="1518.0" y="2535.5" width="38.6" height="107.0" fill="#fff"/>
<rect x="1556.6" y="2262.0" width="37.0" height="380.5" fill="#fff"/>
<rect x="1593.6" y="2523.0" width="38.4" height="119.5" fill="#fff"/>
<rect x="1632.0" y="2526.0" width="37.0" height="116.5" fill="#fff"/>
<rect x="1669.0" y="2536.7" width="76.0" height="105.8" fill="#fff"/>
<rect x="1745.0" y="2525.0" width="38.7" height="117.5" fill="#fff"/>
<rect x="1783.7" y="2414.6" width="37.8" height="227.9" fill="#fff"/>
<rect x="1821.5" y="2461.0" width="19.1" height="181.5" fill="#fff"/>
<rect x="1840.6" y="2522.0" width="19.4" height="120.5" fill="#fff"/>
<rect x="1860.0" y="2533.4" width="93.7" height="109.1" fill="#fff"/>
<rect x="1953.7" y="2524.5" width="38.3" height="118.0" fill="#fff"/>
<rect x="1992.0" y="2514.0" width="56.0" height="128.5" fill="#fff"/>
<rect x="2048.0" y="2535.5" width="19.7" height="107.0" fill="#fff"/>
<rect x="2067.7" y="2515.0" width="19.9" height="127.5" fill="#fff"/>
<rect x="2087.6" y="2460.0" width="94.0" height="182.5" fill="#fff"/>
<rect x="2181.6" y="2494.0" width="18.4" height="148.5" fill="#fff"/>
<rect x="2200.0" y="2513.0" width="30.0" height="129.5" fill="#fff"/>
<rect x="2230.0" y="2515.0" width="7.0" height="127.5" fill="#fff"/>
<rect x="2237.0" y="2535.5" width="19.4" height="107.0" fill="#fff"/>
<rect x="2256.4" y="2514.0" width="20.4" height="128.5" fill="#fff"/>
<rect x="2276.8" y="873.6" width="36.6" height="1768.9" fill="#fff"/>
<rect x="2313.4" y="2533.4" width="57.0" height="109.1" fill="#fff"/>
<rect x="2370.4" y="2534.7" width="75.2" height="107.8" fill="#fff"/>
<rect x="2445.6" y="2515.0" width="37.4" height="127.5" fill="#fff"/>
<rect x="2483.0" y="2533.4" width="133.5" height="109.1" fill="#fff"/>
<rect x="2616.5" y="2525.0" width="37.5" height="117.5" fill="#fff"/>
<rect x="2654.0" y="2524.5" width="19.5" height="118.0" fill="#fff"/>
<rect x="2673.5" y="2514.0" width="56.1" height="128.5" fill="#fff"/>
<rect x="2729.6" y="2523.0" width="39.4" height="119.5" fill="#fff"/>
<rect x="2769.0" y="2512.0" width="56.0" height="130.5" fill="#fff"/>
<rect x="2825.0" y="2524.5" width="18.0" height="118.0" fill="#fff"/>
<rect x="2843.0" y="2515.0" width="20.5" height="127.5" fill="#fff"/>
<rect x="2863.5" y="2461.0" width="36.5" height="181.5" fill="#fff"/>
<rect x="2900.0" y="2521.0" width="19.6" height="121.5" fill="#fff"/>
<rect x="2919.6" y="2513.0" width="56.2" height="129.5" fill="#fff"/>
<rect x="2975.8" y="2524.0" width="37.2" height="118.5" fill="#fff"/>
<rect x="3013.0" y="2535.5" width="87.0" height="107.0" fill="#fff"/>
<rect x="3100.0" y="2536.7" width="27.7" height="105.8" fill="#fff"/>
<rect x="3127.7" y="2515.0" width="37.3" height="127.5" fill="#fff"/>
<rect x="3165.0" y="2533.4" width="57.0" height="109.1" fill="#fff"/>
<rect x="3222.0" y="2196.7" width="37.0" height="445.8" fill="#fff"/>
<rect x="3259.0" y="2533.4" width="38.3" height="109.1" fill="#fff"/>
<rect x="3297.3" y="2348.5" width="37.7" height="294.0" fill="#fff"/>
<rect x="3335.0" y="2522.0" width="19.3" height="120.5" fill="#fff"/>
<rect x="3354.3" y="2294.6" width="36.7" height="347.9" fill="#fff"/>
<rect x="3391.0" y="2515.0" width="57.7" height="127.5" fill="#fff"/>
<rect x="3448.7" y="2524.5" width="18.7" height="118.0" fill="#fff"/>
<rect x="3467.4" y="2533.4" width="37.6" height="109.1" fill="#fff"/>
<rect x="3505.0" y="2539.5" width="57.6" height="103.0" fill="#fff"/>
<rect x="3562.6" y="2535.5" width="19.4" height="107.0" fill="#fff"/>
<rect x="3582.0" y="2515.0" width="18.5" height="127.5" fill="#fff"/>
<rect x="3600.5" y="2421.6" width="20.1" height="220.9" fill="#fff"/>
<rect x="3620.6" y="2151.7" width="39.7" height="490.8" fill="#fff"/>
<rect x="3660.3" y="2409.0" width="34.7" height="233.5" fill="#fff"/>
<rect x="3695.0" y="2513.0" width="37.7" height="129.5" fill="#fff"/>
<rect x="3732.7" y="2525.0" width="18.3" height="117.5" fill="#fff"/>
<rect x="3751.0" y="2538.0" width="19.5" height="104.5" fill="#fff"/>
<rect x="3770.5" y="2396.0" width="37.5" height="246.5" fill="#fff"/>
<rect x="3808.0" y="2525.0" width="19.5" height="117.5" fill="#fff"/>
<rect x="3827.5" y="2537.5" width="57.0" height="105.0" fill="#fff"/>
<rect x="3884.5" y="2515.0" width="56.9" height="127.5" fill="#fff"/>
<rect x="3941.4" y="2535.5" width="17.6" height="107.0" fill="#fff"/>
<rect x="3600.5" y="360.0" width="59.5" height="1561.5" fill="#fff"/>
<g fill="none" stroke="#000" stroke-width="3">
<rect x="439.5" y="330.5" width="3520.0" height="2312.0"/>
</g>
<g stroke="#000" stroke-width="3">
<line x1="731.5" y1="330.5" x2="731.5" y2="367.0"/>
<line x1="731.5" y1="2642.5" x2="731.5" y2="2606.0"/>
<line x1="1110.0" y1="330.5" x2="1110.0" y2="367.0"/>
<line x1="1110.0" y1="2642.5" x2="1110.0" y2="2606.0"/>
<line x1="1488.5" y1="330.5" x2="1488.5" y2="367.0"/>
<line x1="1488.5" y1="2642.5" x2="1488.5" y2="2606.0"/>
<line x1="1867.0" y1="330.5" x2="1867.0" y2="367.0"/>
<line x1="1867.0" y1="2642.5" x2="1867.0" y2="2606.0"/>
<line x1="2245.5" y1="330.5" x2="2245.5" y2="367.0"/>
<line x1="2245.5" y1="2642.5" x2="2245.5" y2="2606.0"/>
<line x1="2624.0" y1="330.5" x2="2624.0" y2="367.0"/>
<line x1="2624.0" y1="2642.5" x2="2624.0" y2="2606.0"/>
<line x1="3002.5" y1="330.5" x2="3002.5" y2="367.0"/>
<line x1="3002.5" y1="2642.5" x2="3002.5" y2="2606.0"/>
<line x1="3381.0" y1="330.5" x2="3381.0" y2="367.0"/>
<line x1="3381.0" y1="2642.5" x2="3381.0" y2="2606.0"/>
<line x1="3759.5" y1="330.5" x2="3759.5" y2="367.0"/>
<line x1="3759.5" y1="2642.5" x2="3759.5" y2="2606.0"/>
<line x1="439.5" y1="330.5" x2="476.0" y2="330.5"/>
<line x1="3959.5" y1="330.5" x2="3923.0" y2="330.5"/>
<line x1="439.5" y1="587.4" x2="476.0" y2="587.4"/>
<line x1="3959.5" y1="587.4" x2="3923.0" y2="587.4"/>
<line x1="439.5" y1="844.3" x2="476.0" y2="844.3"/>
<line x1="3959.5" y1="844.3" x2="3923.0" y2="844.3"/>
<line x1="439.5" y1="1101.2" x2="476.0" y2="1101.2"/>
<line x1="3959.5" y1="1101.2" x2="3923.0" y2="1101.2"/>
<line x1="439.5" y1="1358.1" x2="476.0" y2="1358.1"/>
<line x1="3959.5" y1="1358.1" x2="3923.0" y2="1358.1"/>
<line x1="439.5" y1="1614.9" x2="476.0" y2="1614.9"/>
<line x1="3959.5" y1="1614.9" x2="3923.0" y2="1614.9"/>
<line x1="439.5" y1="1871.8" x2="476.0" y2="1871.8"/>
<line x1="3959.5" y1="1871.8" x2="3923.0" y2="1871.8"/>
<line x1="439.5" y1="2128.7" x2="476.0" y2="2128.7"/>
<line x1="3959.5" y1="2128.7" x2="3923.0" y2="2128.7"/>
<line x1="439.5" y1="2385.6" x2="476.0" y2="2385.6"/>
<line x1="3959.5" y1="2385.6" x2="3923.0" y2="2385.6"/>
<line x1="439.5" y1="2642.5" x2="476.0" y2="2642.5"/>
<line x1="3959.5" y1="2642.5" x2="3923.0" y2="2642.5"/>
</g>
<text transform="translate(731.5,2701.0) scale(0.9250,1)" font-size="36" text-anchor="middle">23-Aug</text>
<text transform="translate(1110.0,2701.0) scale(0.9250,1)" font-size="36" text-anchor="middle">02-Sep</text>
<text transform="translate(1488.5,2701.0) scale(0.9250,1)" font-size="36" text-anchor="middle">12-Sep</text>
<text transform="translate(1867.0,2701.0) scale(0.9250,1)" font-size="36" text-anchor="middle">22-Sep</text>
<text transform="translate(2245.5,2701.0) scale(0.9250,1)" font-size="36" text-anchor="middle">02-Oct</text>
<text transform="translate(2624.0,2701.0) scale(0.9250,1)" font-size="36" text-anchor="middle">12-Oct</text>
<text transform="translate(3002.5,2701.0) scale(0.9250,1)" font-size="36" text-anchor="middle">22-Oct</text>
<text transform="translate(3381.0,2701.0) scale(0.9250,1)" font-size="36" text-anchor="middle">01-Nov</text>
<text transform="translate(3759.5,2701.0) scale(0.9250,1)" font-size="36" text-anchor="middle">11-Nov</text>
<text transform="translate(417.0,345.0) scale(0.9000,1)" font-size="36" text-anchor="end">0</text>
<text transform="translate(417.0,601.9) scale(0.9000,1)" font-size="36" text-anchor="end">50</text>
<text transform="translate(417.0,858.8) scale(0.9000,1)" font-size="36" text-anchor="end">100</text>
<text transform="translate(417.0,1115.7) scale(0.9000,1)" font-size="36" text-anchor="end">150</text>
<text transform="translate(417.0,1372.6) scale(0.9000,1)" font-size="36" text-anchor="end">200</text>
<text transform="translate(417.0,1629.4) scale(0.9000,1)" font-size="36" text-anchor="end">250</text>
<text transform="translate(417.0,1886.3) scale(0.9000,1)" font-size="36" text-anchor="end">300</text>
<text transform="translate(417.0,2143.2) scale(0.9000,1)" font-size="36" text-anchor="end">350</text>
<text transform="translate(417.0,2400.1) scale(0.9000,1)" font-size="36" text-anchor="end">400</text>
<text transform="translate(417.0,2657.0) scale(0.9000,1)" font-size="36" text-anchor="end">450</text>
<text transform="translate(2198.0,303.0) scale(0.9000,1)" font-size="36" text-anchor="middle">Buoy IAOOS 25 : Dissolved Oxygen (mmol/L) - 12-Jan-2018</text>
<rect x="880.50" y="2873.5" width="41.85" height="99.0" fill="#00008f"/>
<rect x="921.75" y="2873.5" width="41.85" height="99.0" fill="#00009f"/>
<rect x="963.00" y="2873.5" width="41.85" height="99.0" fill="#0000af"/>
<rect x="1004.25" y="2873.5" width="41.85" height="99.0" fill="#0000bf"/>
<rect x="1045.50" y="2873.5" width="41.85" height="99.0" fill="#0000cf"/>
<rect x="1086.75" y="2873.5" width="41.85" height="99.0" fill="#0000df"/>
<rect x="1128.00" y="2873.5" width="41.85" height="99.0" fill="#0000ef"/>
<rect x="1169.25" y="2873.5" width="41.85" height="99.0" fill="#0000ff"/>
<rect x="1210.50" y="2873.5" width="41.85" height="99.0" fill="#0010ff"/>
<rect x="1251.75" y="2873.5" width="41.85" height="99.0" fill="#0020ff"/>
<rect x="1293.00" y="2873.5" width="41.85" height="99.0" fill="#0030ff"/>
<rect x="1334.25" y="2873.5" width="41.85" height="99.0" fill="#0040ff"/>
<rect x="1375.50" y="2873.5" width="41.85" height="99.0" fill="#0050ff"/>
<rect x="1416.75" y="2873.5" width="41.85" height="99.0" fill="#0060ff"/>
<rect x="1458.00" y="2873.5" width="41.85" height="99.0" fill="#0070ff"/>
<rect x="1499.25" y="2873.5" width="41.85" height="99.0" fill="#0080ff"/>
<rect x="1540.50" y="2873.5" width="41.85" height="99.0" fill="#008fff"/>
<rect x="1581.75" y="2873.5" width="41.85" height="99.0" fill="#009fff"/>
<rect x="1623.00" y="2873.5" width="41.85" height="99.0" fill="#00afff"/>
<rect x="1664.25" y="2873.5" width="41.85" height="99.0" fill="#00bfff"/>
<rect x="1705.50" y="2873.5" width="41.85" height="99.0" fill="#00cfff"/>
<rect x="1746.75" y="2873.5" width="41.85" height="99.0" fill="#00dfff"/>
<rect x="1788.00" y="2873.5" width="41.85" height="99.0" fill="#00efff"/>
<rect x="1829.25" y="2873.5" width="41.85" height="99.0" fill="#00ffff"/>
<rect x="1870.50" y="2873.5" width="41.85" height="99.0" fill="#10ffef"/>
<rect x="1911.75" y="2873.5" width="41.85" height="99.0" fill="#20ffdf"/>
<rect x="1953.00" y="2873.5" width="41.85" height="99.0" fill="#30ffcf"/>
<rect x="1994.25" y="2873.5" width="41.85" height="99.0" fill="#40ffbf"/>
<rect x="2035.50" y="2873.5" width="41.85" height="99.0" fill="#50ffaf"/>
<rect x="2076.75" y="2873.5" width="41.85" height="99.0" fill="#60ff9f"/>
<rect x="2118.00" y="2873.5" width="41.85" height="99.0" fill="#70ff8f"/>
<rect x="2159.25" y="2873.5" width="41.85" height="99.0" fill="#80ff80"/>
<rect x="2200.50" y="2873.5" width="41.85" height="99.0" fill="#8fff70"/>
<rect x="2241.75" y="2873.5" width="41.85" height="99.0" fill="#9fff60"/>
<rect x="2283.00" y="2873.5" width="41.85" height="99.0" fill="#afff50"/>
<rect x="2324.25" y="2873.5" width="41.85" height="99.0" fill="#bfff40"/>
<rect x="2365.50" y="2873.5" width="41.85" height="99.0" fill="#cfff30"/>
<rect x="2406.75" y="2873.5" width="41.85" height="99.0" fill="#dfff20"/>
<rect x="2448.00" y="2873.5" width="41.85" height="99.0" fill="#efff10"/>
<rect x="2489.25" y="2873.5" width="41.85" height="99.0" fill="#ffff00"/>
<rect x="2530.50" y="2873.5" width="41.85" height="99.0" fill="#ffef00"/>
<rect x="2571.75" y="2873.5" width="41.85" height="99.0" fill="#ffdf00"/>
<rect x="2613.00" y="2873.5" width="41.85" height="99.0" fill="#ffcf00"/>
<rect x="2654.25" y="2873.5" width="41.85" height="99.0" fill="#ffbf00"/>
<rect x="2695.50" y="2873.5" width="41.85" height="99.0" fill="#ffaf00"/>
<rect x="2736.75" y="2873.5" width="41.85" height="99.0" fill="#ff9f00"/>
<rect x="2778.00" y="2873.5" width="41.85" height="99.0" fill="#ff8f00"/>
<rect x="2819.25" y="2873.5" width="41.85" height="99.0" fill="#ff8000"/>
<rect x="2860.50" y="2873.5" width="41.85" height="99.0" fill="#ff7000"/>
<rect x="2901.75" y="2873.5" width="41.85" height="99.0" fill="#ff6000"/>
<rect x="2943.00" y="2873.5" width="41.85" height="99.0" fill="#ff5000"/>
<rect x="2984.25" y="2873.5" width="41.85" height="99.0" fill="#ff4000"/>
<rect x="3025.50" y="2873.5" width="41.85" height="99.0" fill="#ff3000"/>
<rect x="3066.75" y="2873.5" width="41.85" height="99.0" fill="#ff2000"/>
<rect x="3108.00" y="2873.5" width="41.85" height="99.0" fill="#ff1000"/>
<rect x="3149.25" y="2873.5" width="41.85" height="99.0" fill="#ff0000"/>
<rect x="3190.50" y="2873.5" width="41.85" height="99.0" fill="#ef0000"/>
<rect x="3231.75" y="2873.5" width="41.85" height="99.0" fill="#df0000"/>
<rect x="3273.00" y="2873.5" width="41.85" height="99.0" fill="#cf0000"/>
<rect x="3314.25" y="2873.5" width="41.85" height="99.0" fill="#bf0000"/>
<rect x="3355.50" y="2873.5" width="41.85" height="99.0" fill="#af0000"/>
<rect x="3396.75" y="2873.5" width="41.85" height="99.0" fill="#9f0000"/>
<rect x="3438.00" y="2873.5" width="41.85" height="99.0" fill="#8f0000"/>
<rect x="3479.25" y="2873.5" width="41.85" height="99.0" fill="#800000"/>
<g fill="none" stroke="#000" stroke-width="3"><rect x="880.5" y="2873.5" width="2640.0" height="99.0"/></g>
<g stroke="#000" stroke-width="3">
<line x1="1121.5" y1="2873.5" x2="1121.5" y2="2900.0"/>
<line x1="1121.5" y1="2972.5" x2="1121.5" y2="2946.0"/>
<line x1="1484.0" y1="2873.5" x2="1484.0" y2="2900.0"/>
<line x1="1484.0" y1="2972.5" x2="1484.0" y2="2946.0"/>
<line x1="1846.5" y1="2873.5" x2="1846.5" y2="2900.0"/>
<line x1="1846.5" y1="2972.5" x2="1846.5" y2="2946.0"/>
<line x1="2209.0" y1="2873.5" x2="2209.0" y2="2900.0"/>
<line x1="2209.0" y1="2972.5" x2="2209.0" y2="2946.0"/>
<line x1="2571.5" y1="2873.5" x2="2571.5" y2="2900.0"/>
<line x1="2571.5" y1="2972.5" x2="2571.5" y2="2946.0"/>
<line x1="2934.0" y1="2873.5" x2="2934.0" y2="2900.0"/>
<line x1="2934.0" y1="2972.5" x2="2934.0" y2="2946.0"/>
<line x1="3296.5" y1="2873.5" x2="3296.5" y2="2900.0"/>
<line x1="3296.5" y1="2972.5" x2="3296.5" y2="2946.0"/>
</g>
<text transform="translate(1121.5,3032.0) scale(0.9000,1)" font-size="36" text-anchor="middle">250</text>
<text transform="translate(1484.0,3032.0) scale(0.9000,1)" font-size="36" text-anchor="middle">300</text>
<text transform="translate(1846.5,3032.0) scale(0.9000,1)" font-size="36" text-anchor="middle">350</text>
<text transform="translate(2209.0,3032.0) scale(0.9000,1)" font-size="36" text-anchor="middle">400</text>
<text transform="translate(2571.5,3032.0) scale(0.9000,1)" font-size="36" text-anchor="middle">450</text>
<text transform="translate(2934.0,3032.0) scale(0.9000,1)" font-size="36" text-anchor="middle">500</text>
<text transform="translate(3296.5,3032.0) scale(0.9000,1)" font-size="36" text-anchor="middle">550</text>
</svg></body></html>
